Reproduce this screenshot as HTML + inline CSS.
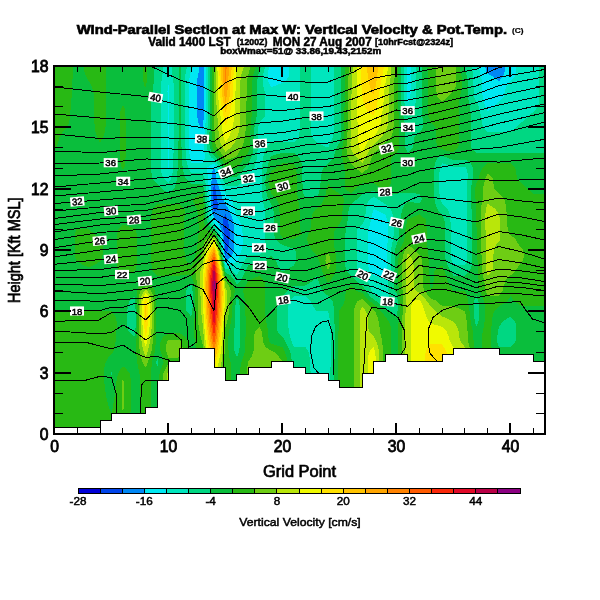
<!DOCTYPE html>
<html><head><meta charset="utf-8"><title>Wind-Parallel Section</title>
<style>
html,body{margin:0;padding:0;background:#fff;}
svg{display:block;font-family:"Liberation Sans",sans-serif;}
.ax{font-size:15.7px;fill:#000;stroke:#000;stroke-width:0.8px;}
.cbl{font-size:11.7px;fill:#000;stroke:#000;stroke-width:0.5px;}
.cl text{font-size:9.6px;fill:#000;stroke:#000;stroke-width:0.5px;}
</style></head><body>
<svg width="600" height="600" viewBox="0 0 600 600">
<defs><clipPath id="pc"><rect x="54.5" y="66.0" width="490.0" height="368.0"/></clipPath></defs>
<rect width="600" height="600" fill="#fff"/>
<g clip-path="url(#pc)">
<g shape-rendering="crispEdges">
<rect x="54.5" y="66.0" width="490.0" height="368.0" fill="#0000d7"/>
<path fill="#0044eb" d="M54.5 434.0L65.9 434.0L77.3 434.0L88.7 434.0L100.1 434.0L111.5 434.0L122.9 434.0L134.3 434.0L145.7 434.0L157.1 434.0L168.5 434.0L179.9 434.0L191.3 434.0L202.7 434.0L214.1 434.0L225.5 434.0L236.9 434.0L248.3 434.0L259.7 434.0L271.1 434.0L282.5 434.0L293.9 434.0L305.3 434.0L316.7 434.0L328.1 434.0L339.5 434.0L350.9 434.0L362.3 434.0L373.7 434.0L385.1 434.0L396.5 434.0L407.9 434.0L419.3 434.0L430.7 434.0L442.1 434.0L453.5 434.0L464.9 434.0L476.3 434.0L487.7 434.0L499.1 434.0L510.5 434.0L521.9 434.0L533.3 434.0L544.7 434.0L544.7 428.9L544.7 423.8L544.7 418.7L544.7 413.6L544.7 408.4L544.7 403.3L544.7 398.2L544.7 393.1L544.7 388.0L544.7 382.9L544.7 377.8L544.7 372.6L544.7 367.5L544.7 362.4L544.7 357.3L544.7 352.2L544.7 347.1L544.7 342.0L544.7 336.9L544.7 331.8L544.7 326.6L544.7 321.5L544.7 316.4L544.7 311.3L544.7 306.2L544.7 301.1L544.7 296.0L544.7 290.9L544.7 285.7L544.7 280.6L544.7 275.5L544.7 270.4L544.7 265.3L544.7 260.2L544.7 255.1L544.7 250.0L544.7 244.8L544.7 239.7L544.7 234.6L544.7 229.5L544.7 224.4L544.7 219.3L544.7 214.2L544.7 209.1L544.7 203.9L544.7 198.8L544.7 193.7L544.7 188.6L544.7 183.5L544.7 178.4L544.7 173.3L544.7 168.2L544.7 163.0L544.7 157.9L544.7 152.8L544.7 147.7L544.7 142.6L544.7 137.5L544.7 132.4L544.7 127.2L544.7 122.1L544.7 117.0L544.7 111.9L544.7 106.8L544.7 101.7L544.7 96.6L544.7 91.5L544.7 86.4L544.7 81.2L544.7 76.1L544.7 71.0L544.7 65.9L533.3 65.9L521.9 65.9L510.5 65.9L499.1 65.9L487.7 65.9L476.3 65.9L464.9 65.9L453.5 65.9L442.1 65.9L430.7 65.9L419.3 65.9L407.9 65.9L396.5 65.9L385.1 65.9L373.7 65.9L362.3 65.9L350.9 65.9L339.5 65.9L328.1 65.9L316.7 65.9L305.3 65.9L293.9 65.9L282.5 65.9L271.1 65.9L259.7 65.9L248.3 65.9L236.9 65.9L225.5 65.9L214.1 65.9L202.7 65.9L191.3 65.9L179.9 65.9L168.5 65.9L157.1 65.9L145.7 65.9L134.3 65.9L122.9 65.9L111.5 65.9L100.1 65.9L88.7 65.9L77.3 65.9L65.9 65.9L54.5 65.9L54.5 71.0L54.5 76.1L54.5 81.2L54.5 86.4L54.5 91.5L54.5 96.6L54.5 101.7L54.5 106.8L54.5 111.9L54.5 117.0L54.5 122.1L54.5 127.2L54.5 132.4L54.5 137.5L54.5 142.6L54.5 147.7L54.5 152.8L54.5 157.9L54.5 163.0L54.5 168.2L54.5 173.3L54.5 178.4L54.5 183.5L54.5 188.6L54.5 193.7L54.5 198.8L54.5 203.9L54.5 209.1L54.5 214.2L54.5 219.3L54.5 224.4L54.5 229.5L54.5 234.6L54.5 239.7L54.5 244.8L54.5 250.0L54.5 255.1L54.5 260.2L54.5 265.3L54.5 270.4L54.5 275.5L54.5 280.6L54.5 285.7L54.5 290.9L54.5 296.0L54.5 301.1L54.5 306.2L54.5 311.3L54.5 316.4L54.5 321.5L54.5 326.6L54.5 331.8L54.5 336.9L54.5 342.0L54.5 347.1L54.5 352.2L54.5 357.3L54.5 362.4L54.5 367.5L54.5 372.6L54.5 377.8L54.5 382.9L54.5 388.0L54.5 393.1L54.5 398.2L54.5 403.3L54.5 408.4L54.5 413.6L54.5 418.7L54.5 423.8L54.5 428.9Z"/>
<path fill="#0087f5" d="M54.5 434.0L65.9 434.0L77.3 434.0L88.7 434.0L100.1 434.0L111.5 434.0L122.9 434.0L134.3 434.0L145.7 434.0L157.1 434.0L168.5 434.0L179.9 434.0L191.3 434.0L202.7 434.0L214.1 434.0L225.5 434.0L236.9 434.0L248.3 434.0L259.7 434.0L271.1 434.0L282.5 434.0L293.9 434.0L305.3 434.0L316.7 434.0L328.1 434.0L339.5 434.0L350.9 434.0L362.3 434.0L373.7 434.0L385.1 434.0L396.5 434.0L407.9 434.0L419.3 434.0L430.7 434.0L442.1 434.0L453.5 434.0L464.9 434.0L476.3 434.0L487.7 434.0L499.1 434.0L510.5 434.0L521.9 434.0L533.3 434.0L544.7 434.0L544.7 428.9L544.7 423.8L544.7 418.7L544.7 413.6L544.7 408.4L544.7 403.3L544.7 398.2L544.7 393.1L544.7 388.0L544.7 382.9L544.7 377.8L544.7 372.6L544.7 367.5L544.7 362.4L544.7 357.3L544.7 352.2L544.7 347.1L544.7 342.0L544.7 336.9L544.7 331.8L544.7 326.6L544.7 321.5L544.7 316.4L544.7 311.3L544.7 306.2L544.7 301.1L544.7 296.0L544.7 290.9L544.7 285.7L544.7 280.6L544.7 275.5L544.7 270.4L544.7 265.3L544.7 260.2L544.7 255.1L544.7 250.0L544.7 244.8L544.7 239.7L544.7 234.6L544.7 229.5L544.7 224.4L544.7 219.3L544.7 214.2L544.7 209.1L544.7 203.9L544.7 198.8L544.7 193.7L544.7 188.6L544.7 183.5L544.7 178.4L544.7 173.3L544.7 168.2L544.7 163.0L544.7 157.9L544.7 152.8L544.7 147.7L544.7 142.6L544.7 137.5L544.7 132.4L544.7 127.2L544.7 122.1L544.7 117.0L544.7 111.9L544.7 106.8L544.7 101.7L544.7 96.6L544.7 91.5L544.7 86.4L544.7 81.2L544.7 76.1L544.7 71.0L544.7 65.9L533.3 65.9L521.9 65.9L510.5 65.9L499.1 65.9L487.7 65.9L476.3 65.9L464.9 65.9L453.5 65.9L442.1 65.9L430.7 65.9L419.3 65.9L407.9 65.9L396.5 65.9L385.1 65.9L373.7 65.9L362.3 65.9L350.9 65.9L339.5 65.9L328.1 65.9L316.7 65.9L305.3 65.9L293.9 65.9L282.5 65.9L271.1 65.9L259.7 65.9L248.3 65.9L236.9 65.9L225.5 65.9L214.1 65.9L202.7 65.9L191.3 65.9L179.9 65.9L168.5 65.9L157.1 65.9L145.7 65.9L134.3 65.9L122.9 65.9L111.5 65.9L100.1 65.9L88.7 65.9L77.3 65.9L65.9 65.9L54.5 65.9L54.5 71.0L54.5 76.1L54.5 81.2L54.5 86.4L54.5 91.5L54.5 96.6L54.5 101.7L54.5 106.8L54.5 111.9L54.5 117.0L54.5 122.1L54.5 127.2L54.5 132.4L54.5 137.5L54.5 142.6L54.5 147.7L54.5 152.8L54.5 157.9L54.5 163.0L54.5 168.2L54.5 173.3L54.5 178.4L54.5 183.5L54.5 188.6L54.5 193.7L54.5 198.8L54.5 203.9L54.5 209.1L54.5 214.2L54.5 219.3L54.5 224.4L54.5 229.5L54.5 234.6L54.5 239.7L54.5 244.8L54.5 250.0L54.5 255.1L54.5 260.2L54.5 265.3L54.5 270.4L54.5 275.5L54.5 280.6L54.5 285.7L54.5 290.9L54.5 296.0L54.5 301.1L54.5 306.2L54.5 311.3L54.5 316.4L54.5 321.5L54.5 326.6L54.5 331.8L54.5 336.9L54.5 342.0L54.5 347.1L54.5 352.2L54.5 357.3L54.5 362.4L54.5 367.5L54.5 372.6L54.5 377.8L54.5 382.9L54.5 388.0L54.5 393.1L54.5 398.2L54.5 403.3L54.5 408.4L54.5 413.6L54.5 418.7L54.5 423.8L54.5 428.9ZM214.1 211.3L213.6 209.0L213.2 203.9L213.1 198.8L213.1 193.7L213.2 188.6L214.1 183.5L214.1 183.5L214.1 183.5L215.5 188.6L216.3 193.7L216.9 198.8L217.8 203.9L218.1 209.1ZM225.5 254.7L225.1 250.0L224.7 244.8L224.4 239.7L224.0 234.6L223.5 229.5L223.0 224.4L222.7 219.3L225.5 214.3L227.5 219.3L228.7 224.4L229.4 229.5L229.6 234.6L229.5 239.7L229.0 244.8L227.9 250.0Z"/>
<path fill="#00e8f2" d="M54.5 434.0L65.9 434.0L77.3 434.0L88.7 434.0L100.1 434.0L111.5 434.0L122.9 434.0L134.3 434.0L145.7 434.0L157.1 434.0L168.5 434.0L179.9 434.0L191.3 434.0L202.7 434.0L214.1 434.0L225.5 434.0L236.9 434.0L248.3 434.0L259.7 434.0L271.1 434.0L282.5 434.0L293.9 434.0L305.3 434.0L316.7 434.0L328.1 434.0L339.5 434.0L350.9 434.0L362.3 434.0L373.7 434.0L385.1 434.0L396.5 434.0L407.9 434.0L419.3 434.0L430.7 434.0L442.1 434.0L453.5 434.0L464.9 434.0L476.3 434.0L487.7 434.0L499.1 434.0L510.5 434.0L521.9 434.0L533.3 434.0L544.7 434.0L544.7 428.9L544.7 423.8L544.7 418.7L544.7 413.6L544.7 408.4L544.7 403.3L544.7 398.2L544.7 393.1L544.7 388.0L544.7 382.9L544.7 377.8L544.7 372.6L544.7 367.5L544.7 362.4L544.7 357.3L544.7 352.2L544.7 347.1L544.7 342.0L544.7 336.9L544.7 331.8L544.7 326.6L544.7 321.5L544.7 316.4L544.7 311.3L544.7 306.2L544.7 301.1L544.7 296.0L544.7 290.9L544.7 285.7L544.7 280.6L544.7 275.5L544.7 270.4L544.7 265.3L544.7 260.2L544.7 255.1L544.7 250.0L544.7 244.8L544.7 239.7L544.7 234.6L544.7 229.5L544.7 224.4L544.7 219.3L544.7 214.2L544.7 209.1L544.7 203.9L544.7 198.8L544.7 193.7L544.7 188.6L544.7 183.5L544.7 178.4L544.7 173.3L544.7 168.2L544.7 163.0L544.7 157.9L544.7 152.8L544.7 147.7L544.7 142.6L544.7 137.5L544.7 132.4L544.7 127.2L544.7 122.1L544.7 117.0L544.7 111.9L544.7 106.8L544.7 101.7L544.7 96.6L544.7 91.5L544.7 86.4L544.7 81.2L544.7 76.1L544.7 71.0L544.7 65.9L533.3 65.9L521.9 65.9L510.5 65.9L504.8 65.9L504.7 71.0L503.2 76.1L499.1 81.2L499.1 81.2L499.1 81.2L492.3 76.1L487.7 73.6L486.1 71.0L484.9 65.9L476.3 65.9L464.9 65.9L453.5 65.9L442.1 65.9L430.7 65.9L419.3 65.9L407.9 65.9L396.5 65.9L385.1 65.9L373.7 65.9L362.3 65.9L350.9 65.9L339.5 65.9L328.1 65.9L316.7 65.9L305.3 65.9L293.9 65.9L282.5 65.9L271.1 65.9L259.7 65.9L248.3 65.9L236.9 65.9L225.5 65.9L214.1 65.9L203.7 65.9L203.7 71.0L203.7 76.1L203.7 81.2L203.7 86.4L203.7 91.5L203.7 96.6L203.7 101.7L203.7 106.8L203.7 111.9L203.7 117.0L203.4 122.1L202.9 127.2L202.7 129.2L200.7 127.2L198.3 122.1L197.3 117.0L197.0 111.9L197.0 106.8L197.0 101.7L197.0 96.6L197.0 91.5L197.0 86.4L197.1 81.2L197.7 76.1L198.9 71.0L199.6 65.9L191.3 65.9L179.9 65.9L168.5 65.9L157.1 65.9L145.7 65.9L134.3 65.9L122.9 65.9L111.5 65.9L100.1 65.9L88.7 65.9L77.3 65.9L65.9 65.9L54.5 65.9L54.5 71.0L54.5 76.1L54.5 81.2L54.5 86.4L54.5 91.5L54.5 96.6L54.5 101.7L54.5 106.8L54.5 111.9L54.5 117.0L54.5 122.1L54.5 127.2L54.5 132.4L54.5 137.5L54.5 142.6L54.5 147.7L54.5 152.8L54.5 157.9L54.5 163.0L54.5 168.2L54.5 173.3L54.5 178.4L54.5 183.5L54.5 188.6L54.5 193.7L54.5 198.8L54.5 203.9L54.5 209.1L54.5 214.2L54.5 219.3L54.5 224.4L54.5 229.5L54.5 234.6L54.5 239.7L54.5 244.8L54.5 250.0L54.5 255.1L54.5 260.2L54.5 265.3L54.5 270.4L54.5 275.5L54.5 280.6L54.5 285.7L54.5 290.9L54.5 296.0L54.5 301.1L54.5 306.2L54.5 311.3L54.5 316.4L54.5 321.5L54.5 326.6L54.5 331.8L54.5 336.9L54.5 342.0L54.5 347.1L54.5 352.2L54.5 357.3L54.5 362.4L54.5 367.5L54.5 372.6L54.5 377.8L54.5 382.9L54.5 388.0L54.5 393.1L54.5 398.2L54.5 403.3L54.5 408.4L54.5 413.6L54.5 418.7L54.5 423.8L54.5 428.9ZM225.5 260.9L225.3 260.2L224.6 255.1L224.1 250.0L223.6 244.8L223.0 239.7L222.3 234.6L221.0 229.5L219.2 224.4L215.8 219.3L214.1 217.9L212.7 214.2L211.6 209.1L211.3 203.9L211.2 198.8L211.0 193.7L210.9 188.6L211.2 183.5L211.8 178.4L211.9 173.3L213.5 168.2L214.1 167.7L214.4 168.2L215.5 173.3L216.2 178.4L217.6 183.5L219.4 188.6L220.9 193.7L222.6 198.8L225.5 203.9L225.5 203.9L228.5 209.1L230.7 214.2L232.5 219.3L233.6 224.4L234.2 229.5L234.5 234.6L234.4 239.7L234.2 244.8L233.7 250.0L232.2 255.1L227.5 260.2Z"/>
<path fill="#00e6be" d="M54.5 434.0L65.9 434.0L77.3 434.0L88.7 434.0L100.1 434.0L111.5 434.0L122.9 434.0L134.3 434.0L145.7 434.0L157.1 434.0L168.5 434.0L179.9 434.0L191.3 434.0L202.7 434.0L214.1 434.0L225.5 434.0L236.9 434.0L248.3 434.0L259.7 434.0L271.1 434.0L282.5 434.0L293.9 434.0L305.3 434.0L316.7 434.0L328.1 434.0L339.5 434.0L350.9 434.0L362.3 434.0L373.7 434.0L385.1 434.0L396.5 434.0L407.9 434.0L419.3 434.0L430.7 434.0L442.1 434.0L453.5 434.0L464.9 434.0L476.3 434.0L487.7 434.0L499.1 434.0L510.5 434.0L521.9 434.0L533.3 434.0L544.7 434.0L544.7 428.9L544.7 423.8L544.7 418.7L544.7 413.6L544.7 408.4L544.7 403.3L544.7 398.2L544.7 393.1L544.7 388.0L544.7 382.9L544.7 377.8L544.7 372.6L544.7 367.5L544.7 362.4L544.7 357.3L544.7 352.2L544.7 347.1L544.7 342.0L544.7 336.9L544.7 331.8L544.7 326.6L544.7 321.5L544.7 316.4L544.7 311.3L544.7 306.2L544.7 301.1L544.7 296.0L544.7 290.9L544.7 285.7L544.7 280.6L544.7 275.5L544.7 270.4L544.7 265.3L544.7 260.2L544.7 255.1L544.7 250.0L544.7 244.8L544.7 239.7L544.7 234.6L544.7 229.5L544.7 224.4L544.7 219.3L544.7 214.2L544.7 209.1L544.7 203.9L544.7 198.8L544.7 193.7L544.7 188.6L544.7 183.5L544.7 178.4L544.7 173.3L544.7 168.2L544.7 163.0L544.7 157.9L544.7 152.8L544.7 147.7L544.7 142.6L544.7 137.5L544.7 132.4L544.7 127.2L544.7 122.1L544.7 117.0L544.7 111.9L544.7 106.8L544.7 101.7L544.7 96.6L544.7 91.5L544.7 86.4L544.7 81.2L544.7 76.1L544.7 71.0L544.7 65.9L533.3 65.9L521.9 65.9L516.2 65.9L516.1 71.0L515.3 76.1L510.5 81.2L510.5 81.2L506.4 86.4L504.9 91.5L503.9 96.6L499.1 101.7L499.1 101.7L493.4 106.8L487.7 111.9L487.7 111.9L487.7 111.9L485.3 106.8L484.0 101.7L482.7 96.6L482.1 91.5L482.0 86.4L481.9 81.2L480.9 76.1L479.6 71.0L479.2 65.9L476.3 65.9L464.9 65.9L453.5 65.9L442.1 65.9L430.7 65.9L419.3 65.9L410.8 65.9L410.8 71.0L410.8 76.1L410.8 81.2L410.7 86.4L410.7 91.5L410.3 96.6L408.8 101.7L407.9 103.6L407.5 101.7L406.7 96.6L406.5 91.5L406.5 86.4L406.5 81.2L406.5 76.1L406.5 71.0L406.5 65.9L396.5 65.9L385.1 65.9L373.7 65.9L362.3 65.9L350.9 65.9L339.5 65.9L328.1 65.9L316.7 65.9L305.3 65.9L293.9 65.9L288.5 65.9L289.0 71.0L288.8 76.1L285.4 81.2L282.5 83.0L273.3 86.4L271.1 87.2L270.6 86.4L268.1 81.2L267.7 76.1L268.4 71.0L269.0 65.9L259.7 65.9L248.3 65.9L236.9 65.9L225.5 65.9L214.1 65.9L205.7 65.9L205.7 71.0L205.7 76.1L205.8 81.2L205.8 86.4L205.8 91.5L205.8 96.6L205.8 101.7L205.8 106.8L205.8 111.9L205.8 117.0L205.6 122.1L205.2 127.2L204.7 132.4L204.2 137.5L204.0 142.6L204.1 147.7L204.5 152.8L205.0 157.9L202.7 162.9L191.3 162.9L189.9 157.9L189.4 152.8L189.4 147.7L189.3 142.6L189.2 137.5L189.2 132.4L189.1 127.2L189.1 122.1L189.1 117.0L189.1 111.9L189.1 106.8L189.1 101.7L189.1 96.6L189.1 91.5L189.1 86.4L189.2 81.2L189.7 76.1L191.3 71.0L191.3 71.0L193.5 65.9L191.3 65.9L179.9 65.9L168.5 65.9L157.1 65.9L145.7 65.9L134.3 65.9L122.9 65.9L111.5 65.9L100.1 65.9L88.7 65.9L77.3 65.9L65.9 65.9L54.5 65.9L54.5 71.0L54.5 76.1L54.5 81.2L54.5 86.4L54.5 91.5L54.5 96.6L54.5 101.7L54.5 106.8L54.5 111.9L54.5 117.0L54.5 122.1L54.5 127.2L54.5 132.4L54.5 137.5L54.5 142.6L54.5 147.7L54.5 152.8L54.5 157.9L54.5 163.0L54.5 168.2L54.5 173.3L54.5 178.4L54.5 183.5L54.5 188.6L54.5 193.7L54.5 198.8L54.5 203.9L54.5 209.1L54.5 214.2L54.5 219.3L54.5 224.4L54.5 229.5L54.5 234.6L54.5 239.7L54.5 244.8L54.5 250.0L54.5 255.1L54.5 260.2L54.5 265.3L54.5 270.4L54.5 275.5L54.5 280.6L54.5 285.7L54.5 290.9L54.5 296.0L54.5 301.1L54.5 306.2L54.5 311.3L54.5 316.4L54.5 321.5L54.5 326.6L54.5 331.8L54.5 336.9L54.5 342.0L54.5 347.1L54.5 352.2L54.5 357.3L54.5 362.4L54.5 367.5L54.5 372.6L54.5 377.8L54.5 382.9L54.5 388.0L54.5 393.1L54.5 398.2L54.5 403.3L54.5 408.4L54.5 413.6L54.5 418.7L54.5 423.8L54.5 428.9ZM168.5 169.4L168.1 168.2L167.5 163.0L167.5 157.9L167.5 152.8L167.5 147.7L167.5 142.6L167.5 137.5L167.5 132.4L167.5 127.2L167.5 122.1L167.5 117.0L167.5 111.9L167.5 106.8L167.5 101.7L167.5 96.6L167.5 91.5L168.1 86.4L168.5 85.0L168.8 86.4L169.2 91.5L169.2 96.6L169.2 101.7L169.2 106.8L169.2 111.9L169.2 117.0L169.2 122.1L169.2 127.2L169.2 132.4L169.2 137.5L169.2 142.6L169.2 147.7L169.1 152.8L169.1 157.9L169.1 163.0L168.8 168.2ZM225.5 264.9L224.5 260.2L223.8 255.1L223.2 250.0L222.5 244.8L221.7 239.7L220.5 234.6L218.5 229.5L215.3 224.4L214.1 222.9L212.1 219.3L210.5 214.2L209.6 209.1L209.4 203.9L209.2 198.8L208.9 193.7L208.6 188.6L208.4 183.5L208.2 178.4L207.3 173.3L206.3 168.2L214.1 163.2L217.1 168.2L218.4 173.3L219.4 178.4L221.1 183.5L223.2 188.6L225.5 193.7L225.5 193.8L231.2 198.8L233.1 203.9L234.4 209.1L236.0 214.2L236.9 217.3L238.9 219.3L241.3 224.4L242.3 229.5L242.6 234.6L242.6 239.7L242.5 244.8L241.6 250.0L239.6 255.1L237.7 260.2L236.9 262.1ZM373.7 275.5L373.7 275.5L369.2 270.4L368.1 265.3L368.0 260.2L368.0 255.1L368.0 250.0L368.0 244.8L368.0 239.7L368.1 234.6L368.7 229.5L369.9 224.4L371.0 219.3L372.1 214.2L373.7 209.1L384.6 214.2L385.1 214.3L387.3 219.3L387.9 224.4L387.9 229.5L387.9 234.6L387.8 239.7L387.4 244.8L387.1 249.9L387.0 255.1L387.0 260.2L387.0 265.3L386.5 270.4L385.1 275.5L385.1 275.5Z"/>
<path fill="#00d782" d="M54.5 434.0L65.9 434.0L77.3 434.0L88.7 434.0L100.1 434.0L111.5 434.0L122.9 434.0L134.3 434.0L145.7 434.0L157.1 434.0L168.5 434.0L179.9 434.0L191.3 434.0L202.7 434.0L214.1 434.0L225.5 434.0L236.9 434.0L248.3 434.0L259.7 434.0L271.1 434.0L282.5 434.0L293.9 434.0L305.3 434.0L311.0 434.0L311.0 428.9L311.0 423.8L311.0 418.7L311.0 413.6L311.0 408.4L311.0 403.3L311.0 398.2L311.0 393.1L311.0 388.0L311.0 382.9L311.0 377.8L310.7 372.6L310.2 367.5L309.7 362.4L309.5 357.3L308.7 352.2L305.3 347.1L293.9 347.1L293.9 347.1L291.7 342.0L290.2 336.9L288.9 331.8L288.3 326.6L288.2 321.5L288.2 316.4L288.2 311.3L288.3 306.2L289.8 301.1L293.9 296.1L305.3 296.1L310.5 301.1L312.9 306.2L316.7 311.3L320.7 311.3L328.1 311.3L329.3 316.4L330.1 321.5L330.7 326.6L331.1 331.8L331.2 336.9L331.2 342.0L331.1 347.1L331.1 352.2L331.1 357.3L330.9 362.4L330.5 367.5L330.2 372.6L330.0 377.8L330.0 382.9L330.0 388.0L330.0 393.1L330.0 398.2L330.0 403.3L330.0 408.4L330.0 413.6L330.0 418.7L330.0 423.8L330.0 428.9L330.0 434.0L339.5 434.0L350.9 434.0L362.3 434.0L373.7 434.0L385.1 434.0L396.5 434.0L407.9 434.0L419.3 434.0L430.7 434.0L442.1 434.0L453.5 434.0L464.9 434.0L476.3 434.0L487.7 434.0L499.1 434.0L510.5 434.0L521.9 434.0L533.3 434.0L544.7 434.0L544.7 428.9L544.7 423.8L544.7 418.7L544.7 413.6L544.7 408.4L544.7 403.3L544.7 398.2L544.7 393.1L544.7 388.0L544.7 382.9L544.7 377.8L544.7 372.6L544.7 367.5L544.7 362.4L544.7 357.3L544.7 352.2L544.7 347.1L544.7 342.0L544.7 336.9L544.7 331.8L544.7 326.6L544.7 321.5L544.7 316.4L544.7 311.3L544.7 306.2L544.7 301.1L544.7 296.0L544.7 290.9L544.7 285.7L544.7 280.6L544.7 275.5L544.7 270.4L544.7 265.3L544.7 260.2L544.7 255.1L544.7 250.0L544.7 244.8L544.7 239.7L544.7 234.6L544.7 229.5L544.7 224.4L544.7 219.3L544.7 214.2L544.7 209.1L544.7 203.9L544.7 198.8L544.7 193.7L544.7 188.6L544.7 183.5L544.7 178.4L544.7 173.3L544.7 168.2L544.7 163.0L544.7 157.9L544.7 152.8L544.7 147.7L544.7 142.6L544.7 137.5L544.7 132.4L544.7 127.2L544.7 122.1L544.7 117.0L544.7 111.9L544.7 106.8L544.7 101.7L544.7 96.6L544.7 91.5L544.7 86.4L544.7 81.2L544.7 76.1L544.7 71.0L544.7 65.9L539.0 65.9L539.0 71.0L539.0 76.1L539.0 81.2L539.0 86.4L539.0 91.5L539.0 96.6L538.9 101.7L538.1 106.8L533.3 111.9L533.3 111.9L527.6 117.0L521.9 122.1L521.9 122.1L516.2 127.2L510.5 132.4L510.5 132.4L499.1 132.4L487.7 132.4L487.7 132.4L482.9 127.2L482.0 122.1L481.3 117.0L480.0 111.9L478.7 106.8L476.3 101.7L476.3 101.7L474.1 96.6L473.5 91.5L473.5 86.4L473.4 81.2L473.2 76.1L472.5 71.0L471.3 65.9L464.9 65.9L453.5 65.9L442.1 65.9L430.7 65.9L419.3 65.9L416.4 65.9L416.4 71.0L416.4 76.1L416.4 81.2L416.4 86.4L416.4 91.5L416.3 96.6L415.8 101.7L414.8 106.8L412.8 111.9L407.9 116.3L406.4 111.9L405.2 106.8L404.3 101.7L403.8 96.6L403.6 91.5L403.6 86.4L403.6 81.2L403.6 76.1L403.6 71.0L403.6 65.9L396.5 65.9L385.1 65.9L373.7 65.9L362.3 65.9L350.9 65.9L339.5 65.9L333.8 65.9L333.8 71.0L333.8 76.1L333.8 81.2L333.8 86.4L333.8 91.5L333.8 96.6L333.8 101.7L333.8 106.8L333.8 111.9L333.8 117.0L333.8 122.1L333.8 127.2L333.7 132.4L332.7 137.5L330.3 142.6L328.1 147.7L316.7 142.6L316.7 142.6L311.9 137.5L311.1 132.4L311.0 127.2L311.0 122.1L311.0 117.0L311.0 111.9L311.0 106.8L311.0 101.7L311.0 96.6L311.0 91.5L311.0 86.4L311.0 81.2L311.0 76.1L311.0 71.0L311.0 65.9L305.3 65.9L299.6 65.9L299.6 71.0L299.6 76.1L299.6 81.2L299.6 86.4L299.6 91.5L299.6 96.6L299.6 101.7L299.6 106.8L299.6 111.9L299.6 117.0L299.6 122.1L299.6 127.2L299.5 132.4L298.7 137.5L293.9 142.4L282.5 142.4L271.1 142.5L270.9 142.6L265.7 147.7L264.1 152.8L263.2 157.9L262.6 163.0L262.2 168.2L261.9 173.3L261.7 178.4L261.6 183.5L261.7 188.6L262.0 193.7L262.6 198.8L263.5 203.9L264.7 209.1L265.3 214.2L265.4 219.3L265.4 224.4L265.4 229.5L265.4 234.6L265.4 239.7L265.3 244.8L263.8 250.0L259.7 254.9L248.3 254.9L248.2 255.1L244.8 260.2L242.0 265.3L239.6 270.4L236.9 275.4L231.5 270.4L225.5 268.6L224.7 265.3L223.7 260.2L222.9 255.1L222.2 250.0L221.3 244.8L220.3 239.7L218.8 234.6L216.1 229.5L214.1 226.7L211.7 224.4L209.4 219.3L208.2 214.2L207.6 209.1L207.5 203.9L207.3 198.8L206.8 193.7L206.2 188.6L205.6 183.5L204.5 178.4L202.7 173.3L191.3 173.3L191.3 173.3L188.5 168.2L186.8 163.0L185.9 157.9L185.6 152.8L185.5 147.7L185.2 142.6L185.0 137.5L184.9 132.4L184.8 127.2L184.8 122.1L184.8 117.0L184.8 111.9L184.8 106.8L184.8 101.7L184.8 96.6L184.8 91.5L184.8 86.4L184.9 81.2L185.1 76.1L186.0 71.0L187.2 65.9L179.9 65.9L172.0 65.9L172.0 71.0L172.4 76.1L173.3 81.2L174.0 86.4L174.2 91.5L174.2 96.6L174.2 101.7L174.2 106.8L174.2 111.9L174.2 117.0L174.2 122.1L174.2 127.2L174.2 132.4L174.1 137.5L173.8 142.6L173.5 147.7L173.5 152.8L173.4 157.9L173.4 163.0L173.2 168.2L172.5 173.3L171.1 178.4L168.5 183.4L163.8 178.4L161.5 173.3L160.8 168.2L160.6 163.0L160.6 157.9L160.6 152.8L160.6 147.7L160.6 142.6L160.6 137.5L160.6 132.4L160.6 127.2L160.6 122.1L160.6 117.0L160.6 111.9L160.6 106.8L160.6 101.7L160.6 96.6L160.6 91.5L160.8 86.4L161.4 81.2L162.3 76.1L162.8 71.0L162.8 65.9L157.1 65.9L145.7 65.9L134.3 65.9L122.9 65.9L111.5 65.9L100.1 65.9L88.7 65.9L77.3 65.9L65.9 65.9L54.5 65.9L54.5 71.0L54.5 76.1L54.5 81.2L54.5 86.4L54.5 91.5L54.5 96.6L54.5 101.7L54.5 106.8L54.5 111.9L54.5 117.0L54.5 122.1L54.5 127.2L54.5 132.4L54.5 137.5L54.5 142.6L54.5 147.7L54.5 152.8L54.5 157.9L54.5 163.0L54.5 168.2L54.5 173.3L54.5 178.4L54.5 183.5L54.5 188.6L54.5 193.7L54.5 198.8L54.5 203.9L54.5 209.1L54.5 214.2L54.5 219.3L54.5 224.4L54.5 229.5L54.5 234.6L54.5 239.7L54.5 244.8L54.5 250.0L54.5 255.1L54.5 260.2L54.5 265.3L54.5 270.4L54.5 275.5L54.5 280.6L54.5 285.7L54.5 290.9L54.5 296.0L54.5 301.1L54.5 306.2L54.5 311.3L54.5 316.4L54.5 321.5L54.5 326.6L54.5 331.8L54.5 336.9L54.5 342.0L54.5 347.1L54.5 352.2L54.5 357.3L54.5 362.4L54.5 367.5L54.5 372.6L54.5 377.8L54.5 382.9L54.5 388.0L54.5 393.1L54.5 398.2L54.5 403.3L54.5 408.4L54.5 413.6L54.5 418.7L54.5 423.8L54.5 428.9ZM134.3 321.9L134.2 321.5L134.3 319.4L134.3 321.5ZM385.1 302.6L383.5 301.1L377.0 296.0L373.7 294.3L371.6 290.9L369.9 285.7L366.9 280.6L362.3 276.9L360.8 275.5L357.6 270.4L356.7 265.3L356.6 260.2L356.6 255.1L356.6 250.0L356.6 244.8L356.6 239.7L356.7 234.6L357.5 229.5L362.3 224.4L362.3 224.4L364.6 219.3L365.5 214.2L366.1 209.1L367.0 203.9L370.1 198.8L373.7 196.9L377.3 198.8L384.9 203.9L385.1 204.1L390.8 209.1L392.7 214.2L393.4 219.3L393.6 224.4L393.6 229.5L393.6 234.6L393.1 239.7L391.9 244.8L391.1 250.0L390.8 255.1L390.8 260.2L390.8 265.3L390.5 270.4L389.7 275.5L388.5 280.6L388.0 285.7L388.4 290.9L389.5 296.0L388.5 301.1ZM453.5 265.1L451.4 260.2L450.7 255.1L450.7 250.0L450.6 244.8L450.6 239.7L450.6 234.6L450.6 229.5L450.6 224.4L450.4 219.3L449.7 214.2L447.8 209.1L442.4 203.9L442.1 203.8L440.0 198.8L439.5 193.7L439.4 188.6L439.4 183.5L439.4 178.4L439.4 173.3L440.0 168.2L442.1 163.3L453.5 166.6L464.9 166.6L466.4 168.2L467.6 173.3L467.6 178.4L467.2 183.5L466.9 188.6L466.9 193.7L467.0 198.8L467.1 203.9L467.1 209.1L467.1 214.2L467.2 219.3L467.2 224.4L467.2 229.5L467.3 234.6L467.3 239.7L467.4 244.8L467.4 250.0L467.4 255.1L466.9 260.2L464.9 265.1ZM224.6 183.5L225.5 185.5L236.9 186.0L241.0 183.5L245.0 178.4L248.3 173.4L248.6 173.3L254.0 168.2L255.9 163.0L256.8 157.9L257.4 152.8L257.7 147.7L257.8 142.6L257.8 137.5L257.9 132.4L258.3 127.2L259.7 122.1L259.7 122.1L264.5 117.0L265.3 111.9L265.4 106.8L265.4 101.7L265.3 96.6L264.7 91.5L263.3 86.4L262.5 81.2L262.8 76.1L264.0 71.0L265.1 65.9L259.7 65.9L248.3 65.9L236.9 65.9L225.5 65.9L214.1 65.9L207.7 65.9L207.8 71.0L207.8 76.1L207.8 81.2L207.8 86.4L207.8 91.5L207.8 96.6L207.9 101.7L207.9 106.8L207.9 111.9L207.9 117.0L207.7 122.1L207.5 127.2L207.1 132.4L206.7 137.5L206.7 142.6L206.9 147.7L208.1 152.8L211.5 157.9L214.1 159.4L217.2 163.0L219.9 168.2L221.3 173.3L222.7 178.4Z"/>
<path fill="#0abe3c" d="M54.5 434.0L65.9 434.0L77.3 434.0L88.7 434.0L100.1 434.0L111.5 434.0L122.9 434.0L134.3 434.0L145.7 434.0L157.1 434.0L168.5 434.0L179.9 434.0L191.3 434.0L202.7 434.0L214.1 434.0L225.5 434.0L236.9 434.0L248.3 434.0L259.7 434.0L271.1 434.0L282.5 434.0L291.7 434.0L291.7 428.9L291.7 423.8L291.7 418.7L291.7 413.6L291.7 408.4L291.7 403.3L291.7 398.2L291.7 393.1L291.7 388.0L291.7 382.9L291.7 377.8L291.7 372.6L291.7 367.5L291.7 362.4L291.4 357.3L290.4 352.2L288.2 347.1L285.6 342.0L282.6 336.9L282.5 336.7L277.7 331.8L276.9 326.6L276.8 321.5L276.8 316.4L276.8 311.3L276.9 306.2L277.7 301.1L282.5 296.0L282.5 296.0L287.3 290.9L293.6 285.7L293.9 285.6L305.3 285.6L313.1 280.6L316.7 275.5L316.7 275.5L316.7 275.5L318.2 280.6L320.0 285.7L322.4 290.9L328.1 296.0L328.1 296.0L332.9 301.1L333.5 306.2L333.6 311.3L334.0 316.4L334.4 321.5L334.6 326.6L334.8 331.8L334.8 336.9L334.7 342.0L334.7 347.1L334.6 352.2L334.6 357.3L334.4 362.4L334.2 367.5L333.9 372.6L333.8 377.8L333.8 382.9L333.8 388.0L333.8 393.1L333.8 398.2L333.8 403.3L333.8 408.4L333.8 413.6L333.8 418.7L333.8 423.8L333.8 428.9L333.8 434.0L339.5 434.0L350.9 434.0L362.3 434.0L373.7 434.0L385.1 434.0L396.5 434.0L407.9 434.0L419.3 434.0L430.7 434.0L442.1 434.0L453.5 434.0L464.9 434.0L476.3 434.0L487.7 434.0L499.1 434.0L510.5 434.0L521.9 434.0L533.3 434.0L544.7 434.0L544.7 428.9L544.7 423.8L544.7 418.7L544.7 413.6L544.7 408.4L544.7 403.3L544.7 398.2L544.7 393.1L544.7 388.0L544.7 382.9L544.7 377.8L544.7 372.6L544.7 367.5L544.7 362.4L544.7 357.3L544.7 352.2L544.7 347.1L544.7 342.0L544.7 336.9L544.7 331.8L544.7 326.6L544.7 321.5L544.7 316.4L544.7 311.3L544.7 306.2L544.7 301.1L544.7 296.0L544.7 290.9L544.7 285.7L544.7 280.6L544.7 275.5L544.7 270.4L544.7 265.3L544.7 260.2L544.7 255.1L544.7 250.0L544.7 244.8L544.7 239.7L544.7 234.6L544.7 229.5L544.7 224.4L544.7 219.3L544.7 214.2L544.7 209.1L544.7 203.9L544.7 198.8L544.7 193.7L544.7 188.6L544.7 183.5L544.7 178.4L544.7 173.3L544.7 168.2L544.7 163.0L544.7 157.9L544.7 152.8L533.3 152.8L521.9 152.8L521.9 152.8L510.5 152.7L499.1 152.7L487.7 152.7L476.3 152.8L476.3 152.8L476.3 152.8L471.5 147.7L470.7 142.6L470.6 137.5L470.6 132.4L470.6 127.2L470.6 122.1L470.6 117.0L470.5 111.9L469.9 106.8L468.7 101.7L468.0 96.6L467.8 91.5L467.7 86.4L467.7 81.2L467.1 76.1L464.9 71.0L464.9 71.0L463.5 65.9L453.5 65.9L442.1 65.9L430.7 65.9L422.2 65.9L422.2 71.0L422.2 76.1L422.2 81.2L422.2 86.4L422.2 91.5L422.2 96.6L422.2 101.7L422.2 106.8L422.2 111.9L422.4 117.0L423.0 122.1L423.4 127.2L419.3 132.4L419.3 132.4L414.5 137.5L413.6 142.6L412.7 147.7L407.9 152.8L407.9 152.8L407.9 152.8L405.5 147.7L405.1 142.6L405.1 137.5L405.0 132.4L405.0 127.2L404.6 122.1L403.5 117.0L402.5 111.9L401.7 106.8L401.2 101.7L400.9 96.6L400.8 91.5L400.8 86.4L400.8 81.2L400.8 76.1L400.8 71.0L400.8 65.9L396.5 65.9L385.1 65.9L373.7 65.9L362.3 65.9L350.9 65.9L341.4 65.9L341.3 71.0L341.3 76.1L341.2 81.2L341.2 86.4L341.2 91.5L341.2 96.6L341.2 101.7L341.2 106.8L341.1 111.9L341.1 117.0L341.1 122.1L341.1 127.2L341.1 132.4L340.7 137.5L339.5 142.6L339.5 142.6L336.5 147.7L335.0 152.8L333.4 157.9L328.1 163.0L328.1 163.1L323.0 168.2L321.6 173.3L321.0 178.4L320.5 183.5L319.9 188.6L318.7 193.7L316.7 197.4L305.3 197.8L303.4 193.7L302.6 188.6L302.5 183.5L302.4 178.4L302.4 173.3L302.2 168.2L301.5 163.0L299.6 157.9L293.9 152.8L282.5 152.8L271.1 155.9L270.2 157.9L268.5 163.0L267.2 168.2L266.2 173.3L265.6 178.4L265.4 183.5L265.7 188.6L266.6 193.7L268.2 198.8L271.0 203.9L271.1 204.1L273.3 209.1L273.9 214.2L273.9 219.3L274.0 224.4L274.0 229.5L274.2 234.6L275.5 239.7L282.2 244.8L282.5 245.0L293.9 248.8L295.2 250.0L296.4 255.1L296.2 260.2L294.2 265.3L293.9 265.6L285.3 270.4L282.5 271.4L281.1 270.4L277.5 265.3L276.0 260.2L271.1 255.1L266.3 260.2L259.7 265.3L259.7 265.3L248.3 265.4L245.7 270.4L243.4 275.5L240.5 280.6L236.9 284.5L234.7 280.6L230.6 275.5L225.5 272.3L225.1 270.4L223.9 265.3L222.8 260.2L222.0 255.1L221.2 250.0L220.2 244.8L218.9 239.7L217.0 234.6L214.1 230.1L212.7 229.5L208.1 224.4L206.7 219.3L206.0 214.2L205.7 209.1L205.5 203.9L205.4 198.8L204.8 193.7L203.9 188.6L202.7 183.5L191.3 183.5L191.2 183.5L185.6 178.4L183.7 173.3L182.8 168.2L182.2 163.0L181.9 157.9L181.8 152.8L181.6 147.7L181.2 142.6L180.7 137.5L180.6 132.4L180.5 127.2L180.5 122.1L180.5 117.0L180.5 111.9L180.5 106.8L180.5 101.7L180.5 96.6L180.5 91.5L180.5 86.4L180.5 81.2L180.6 76.1L180.7 71.0L180.9 65.9L179.9 65.9L178.9 65.9L178.9 71.0L178.9 76.1L179.0 81.2L179.1 86.4L179.2 91.5L179.2 96.6L179.2 101.7L179.2 106.8L179.2 111.9L179.2 117.0L179.2 122.1L179.2 127.2L179.1 132.4L178.9 137.5L178.4 142.6L177.9 147.7L177.8 152.8L177.7 157.9L177.7 163.0L177.7 168.2L177.4 173.3L177.0 178.4L176.1 183.5L174.2 188.6L168.5 193.7L168.5 193.7L168.5 193.7L161.9 188.6L157.1 183.5L157.1 183.5L152.3 178.4L151.5 173.3L151.4 168.2L151.4 163.0L151.4 157.9L151.4 152.8L151.4 147.7L151.4 142.6L151.4 137.5L151.4 132.4L151.4 127.2L151.4 122.1L151.4 117.0L151.4 111.9L151.4 106.8L151.4 101.7L151.9 96.6L152.8 91.5L153.4 86.4L153.6 81.2L153.6 76.1L153.6 71.0L153.6 65.9L145.7 65.9L134.3 65.9L122.9 65.9L111.5 65.9L100.1 65.9L88.7 65.9L77.3 65.9L65.9 65.9L54.5 65.9L54.5 71.0L54.5 76.1L54.5 81.2L54.5 86.4L54.5 91.5L54.5 96.6L54.5 101.7L54.5 106.8L54.5 111.9L54.5 117.0L54.5 122.1L54.5 127.2L54.5 132.4L54.5 137.5L54.5 142.6L54.5 147.7L54.5 152.8L54.5 157.9L54.5 163.0L54.5 168.2L54.5 173.3L54.5 178.4L54.5 183.5L54.5 188.6L54.5 193.7L54.5 198.8L54.5 203.9L54.5 209.1L54.5 214.2L54.5 219.3L54.5 224.4L54.5 229.5L54.5 234.6L54.5 239.7L54.5 244.8L54.5 250.0L54.5 255.1L54.5 260.2L54.5 265.3L54.5 270.4L54.5 275.5L54.5 280.6L54.5 285.7L54.5 290.9L54.5 296.0L54.5 301.1L54.5 306.2L54.5 311.3L54.5 316.4L54.5 321.5L54.5 326.6L54.5 331.8L54.5 336.9L54.5 342.0L54.5 347.1L54.5 352.2L54.5 357.3L54.5 362.4L54.5 367.5L54.5 372.6L54.5 377.8L54.5 382.9L54.5 388.0L54.5 393.1L54.5 398.2L54.5 403.3L54.5 408.4L54.5 413.6L54.5 418.7L54.5 423.8L54.5 428.9ZM111.5 374.8L111.4 372.6L111.5 372.2L111.6 372.6ZM134.3 337.0L134.1 336.9L128.9 331.8L127.3 326.6L126.7 321.5L126.8 316.4L127.2 311.3L127.8 306.2L129.2 301.1L134.2 296.0L134.3 295.9L134.3 296.0L135.1 301.1L135.4 306.2L135.6 311.3L135.8 316.4L135.9 321.5L135.7 326.6L135.2 331.8L134.3 336.9ZM157.1 367.3L156.2 362.4L157.1 357.6L158.3 362.4ZM191.3 316.4L191.3 316.4L186.5 311.3L185.7 306.2L185.6 301.1L185.6 296.0L186.0 290.9L188.7 285.7L191.3 284.4L191.7 285.7L192.5 290.9L192.6 296.0L192.6 301.1L192.6 306.2L192.4 311.3L191.3 316.4ZM236.9 357.3L236.9 357.3L234.7 352.2L234.1 347.1L234.1 342.0L234.1 336.9L234.2 331.8L234.6 326.6L235.0 321.5L235.2 316.4L235.3 311.3L235.4 306.2L235.9 301.1L236.9 297.7L238.9 301.1L239.7 306.2L239.7 311.3L239.8 316.4L239.8 321.5L239.8 326.6L239.8 331.8L239.8 336.9L239.7 342.0L239.7 347.1L239.0 352.2L236.9 357.3ZM396.5 316.4L396.5 316.4L390.8 311.3L385.1 309.1L382.2 306.2L376.2 301.1L373.7 299.5L369.7 296.0L365.9 290.9L362.3 285.7L362.3 285.7L356.2 280.6L351.0 275.5L350.9 275.4L346.1 270.4L345.3 265.3L345.2 260.2L345.2 255.1L345.2 250.0L345.2 244.8L345.2 239.7L345.3 234.6L345.9 229.5L347.1 224.4L347.8 219.3L348.1 214.2L348.7 209.1L350.9 204.1L351.2 203.9L357.5 198.8L362.3 193.9L362.6 193.7L373.7 190.8L379.4 193.7L385.1 196.6L396.5 193.7L396.5 193.7L407.9 192.6L418.0 193.7L419.3 194.0L422.2 198.8L419.3 203.5L407.9 201.2L405.3 203.9L402.4 209.1L401.1 214.2L400.3 219.3L399.8 224.4L399.4 229.5L399.3 234.6L398.6 239.7L396.5 244.8L396.5 244.8L395.1 250.0L394.6 255.1L394.6 260.2L394.6 265.3L394.5 270.4L394.2 275.5L393.8 280.6L393.8 285.7L394.9 290.9L396.5 293.4L397.2 296.0L397.8 301.1L397.8 306.2L397.5 311.3L396.5 316.4ZM453.5 275.6L453.5 275.5L450.4 270.4L447.8 265.3L445.7 260.2L445.0 255.1L445.0 250.0L445.0 244.8L445.0 239.7L445.0 234.6L444.9 229.5L444.9 224.4L444.3 219.3L442.1 214.3L441.9 214.2L437.2 209.1L435.3 203.9L434.4 198.8L434.1 193.7L434.1 188.6L434.0 183.5L434.0 178.4L434.0 173.3L434.1 168.2L434.9 163.0L437.6 157.9L442.1 155.7L447.8 157.9L453.5 160.1L464.9 159.5L470.7 163.0L473.0 168.2L473.4 173.3L472.9 178.4L471.8 183.5L471.0 188.6L471.0 193.7L471.3 198.8L471.4 203.9L471.5 209.1L471.6 214.2L471.7 219.3L471.8 224.4L471.9 229.5L472.0 234.6L472.1 239.7L472.3 244.8L472.4 249.9L472.5 255.1L472.4 260.2L471.7 265.3L469.9 270.4L465.0 275.5L464.9 275.6ZM476.3 326.6L476.3 326.6L474.8 321.5L474.3 316.4L474.0 311.3L473.8 306.2L474.1 301.1L476.3 296.0L478.4 301.1L479.1 306.2L479.1 311.3L479.1 316.4L478.5 321.5L476.3 326.6ZM510.5 347.1L510.5 347.1L499.1 347.0L497.1 342.0L497.1 336.9L498.0 331.8L499.1 326.6L499.1 326.6L502.7 321.5L510.5 316.5L515.3 321.5L516.1 326.6L516.2 331.8L516.1 336.9L515.3 342.0L510.5 347.1ZM224.3 173.3L225.5 177.2L236.9 177.2L240.3 173.3L244.5 168.2L248.3 163.0L248.3 163.0L251.1 157.9L252.8 152.8L253.7 147.7L254.0 142.6L254.1 137.5L254.2 132.4L254.5 127.2L255.4 122.1L256.5 117.0L257.0 111.9L257.1 106.8L257.1 101.7L257.2 96.6L257.2 91.5L257.2 86.4L257.3 81.2L257.9 76.1L259.7 71.0L259.7 71.0L261.1 65.9L259.7 65.9L248.3 65.9L236.9 65.9L225.5 65.9L214.1 65.9L209.8 65.9L209.8 71.0L209.8 76.1L209.8 81.2L209.9 86.4L209.9 91.5L209.9 96.6L209.9 101.7L210.0 106.8L210.0 111.9L210.0 117.0L209.9 122.1L209.7 127.2L209.5 132.4L209.3 137.5L209.3 142.6L209.8 147.7L211.8 152.8L214.1 155.5L216.5 157.9L220.4 163.0L222.7 168.2Z"/>
<path fill="#28b914" d="M54.5 434.0L65.9 434.0L77.3 434.0L88.7 434.0L100.1 434.0L111.5 434.0L122.9 434.0L128.6 434.0L128.6 428.9L128.9 423.8L129.7 418.7L130.4 413.6L130.7 408.4L130.8 403.3L130.8 398.2L130.8 393.1L130.8 388.0L130.8 382.9L130.5 377.8L129.3 372.6L124.8 367.5L122.9 366.4L121.7 367.5L118.5 372.6L117.1 377.8L116.3 382.9L115.7 388.0L115.0 393.1L114.3 398.2L113.5 403.3L112.7 408.4L111.5 413.6L111.5 413.6L111.5 413.6L109.2 408.4L107.7 403.3L106.6 398.2L105.7 393.1L105.0 388.0L104.4 382.9L104.0 377.8L103.9 372.6L104.4 367.5L105.8 362.4L108.5 357.3L111.5 353.7L113.0 352.2L114.8 347.1L115.5 342.0L116.0 336.9L116.4 331.8L116.8 326.6L116.7 321.5L115.2 316.4L111.5 311.3L100.1 311.3L88.7 311.3L77.3 311.3L65.9 311.3L54.5 311.3L54.5 316.4L54.5 321.5L54.5 326.6L54.5 331.8L54.5 336.9L54.5 342.0L54.5 347.1L54.5 352.2L54.5 357.3L54.5 362.4L54.5 367.5L54.5 372.6L54.5 377.8L54.5 382.9L54.5 388.0L54.5 393.1L54.5 398.2L54.5 403.3L54.5 408.4L54.5 413.6L54.5 418.7L54.5 423.8L54.5 428.9ZM140.0 434.0L145.7 434.0L151.4 434.0L151.4 428.9L151.4 423.8L151.4 418.7L151.4 413.6L151.4 408.4L151.4 403.3L151.4 398.2L151.4 393.1L151.4 388.0L151.4 382.9L151.4 377.8L151.4 372.6L151.5 367.5L152.0 362.4L153.3 357.3L154.8 352.2L155.4 347.1L155.7 342.0L155.8 336.9L155.9 331.7L156.0 326.6L156.1 321.5L156.1 316.4L156.1 311.3L156.1 306.2L156.0 301.1L155.8 296.0L155.1 290.9L152.4 285.7L145.7 281.9L139.1 285.7L136.7 290.9L136.7 296.0L136.9 301.1L137.1 306.2L137.2 311.3L137.4 316.4L137.5 321.5L137.4 326.6L137.1 331.8L136.6 336.9L136.1 342.0L136.0 347.1L136.2 352.2L136.6 357.3L137.1 362.4L138.1 367.5L139.3 372.6L139.9 377.8L140.0 382.9L140.0 388.0L140.0 393.1L140.0 398.2L140.0 403.3L140.0 408.4L140.0 413.6L140.0 418.7L140.0 423.8L140.0 428.9ZM159.0 434.0L168.5 434.0L179.9 434.0L185.6 434.0L185.6 428.9L185.6 423.8L185.6 418.7L185.6 413.6L185.6 408.4L185.6 403.3L185.6 398.2L185.6 393.1L185.6 388.0L185.6 382.9L185.6 377.8L185.6 372.6L185.7 367.5L186.3 362.4L187.5 357.3L188.2 352.2L188.4 347.1L188.0 342.0L185.6 336.9L179.9 333.3L168.5 333.3L162.8 336.9L160.4 342.0L160.0 347.1L160.7 352.2L162.7 357.3L163.6 362.4L161.6 367.5L159.6 372.6L159.1 377.8L159.0 382.9L159.0 388.0L159.0 393.1L159.0 398.2L159.0 403.3L159.0 408.4L159.0 413.6L159.0 418.7L159.0 423.8L159.0 428.9ZM197.0 434.0L202.7 434.0L214.1 434.0L225.5 434.0L231.2 434.0L231.2 428.9L231.2 423.8L231.2 418.7L231.2 413.6L231.2 408.4L231.2 403.3L231.2 398.2L231.2 393.1L231.2 388.0L231.2 382.9L231.2 377.8L231.2 372.6L231.1 367.5L230.5 362.4L229.3 357.3L228.6 352.2L228.4 347.1L228.4 342.0L228.4 336.9L228.9 331.8L230.1 326.6L231.1 321.5L231.7 316.4L232.2 311.3L232.4 306.2L232.9 301.1L234.0 296.0L234.8 290.9L233.2 285.7L230.0 280.6L225.5 276.4L225.3 275.5L224.2 270.4L223.0 265.3L222.0 260.2L221.1 255.1L220.2 250.0L219.0 244.8L217.5 239.7L215.3 234.6L214.1 232.8L206.0 229.5L204.5 224.4L204.0 219.3L203.8 214.2L203.7 209.1L203.6 203.9L203.4 198.8L202.7 193.9L192.1 198.8L194.4 203.9L196.8 209.1L197.8 214.2L198.3 219.3L198.5 224.4L198.5 229.5L198.5 234.6L198.2 239.7L197.6 244.8L196.7 249.9L195.4 255.1L193.7 260.2L191.4 265.3L191.3 265.6L191.0 265.3L186.2 260.2L184.8 255.1L184.3 249.9L184.1 244.8L184.1 239.7L184.1 234.6L184.1 229.5L184.1 224.4L184.3 219.3L184.7 214.2L184.9 209.1L179.9 203.9L168.5 204.1L157.1 203.9L152.3 209.1L151.5 214.2L151.4 219.3L151.4 224.4L151.4 229.5L151.4 234.6L151.4 239.7L151.4 244.8L151.4 250.0L151.4 255.1L151.4 260.2L151.5 265.3L152.3 270.4L157.1 275.5L168.5 275.5L179.9 275.5L191.3 274.9L191.4 275.5L193.2 280.6L194.6 285.7L195.1 290.9L195.2 296.0L195.3 301.1L195.4 306.2L195.3 311.3L194.7 316.4L193.9 321.5L193.8 326.6L194.1 331.8L194.4 336.9L194.8 342.0L195.6 347.1L196.5 352.2L197.0 357.3L197.0 362.4L197.0 367.5L197.0 372.6L197.0 377.8L197.0 382.9L197.0 388.0L197.0 393.1L197.0 398.2L197.0 403.3L197.0 408.4L197.0 413.6L197.0 418.7L197.0 423.8L197.0 428.9ZM240.4 434.0L248.3 434.0L259.7 434.0L271.1 434.0L282.5 434.0L287.4 434.0L287.4 428.9L287.4 423.8L287.4 418.7L287.4 413.6L287.4 408.4L287.4 403.3L287.4 398.2L287.4 393.1L287.4 388.0L287.4 382.9L287.4 377.8L287.4 372.6L287.4 367.5L287.2 362.4L286.5 357.3L285.0 352.2L282.5 347.1L282.4 347.1L271.1 343.6L269.6 342.0L268.3 336.9L268.0 331.8L267.3 326.6L266.1 321.5L265.5 316.4L265.4 311.3L265.4 306.2L265.4 301.1L265.4 296.0L265.4 290.9L265.3 285.7L264.5 280.6L259.7 275.7L248.3 280.6L248.3 280.6L245.8 285.7L243.1 290.9L244.1 296.0L245.2 301.1L245.4 306.2L245.4 311.3L245.5 316.4L245.5 321.5L245.5 326.6L245.5 331.8L245.5 336.9L245.4 342.0L245.4 347.1L244.9 352.2L243.1 357.3L241.2 362.4L240.4 367.5L240.4 372.6L240.4 377.8L240.4 382.9L240.4 388.0L240.4 393.1L240.4 398.2L240.4 403.3L240.4 408.4L240.4 413.6L240.4 418.7L240.4 423.8L240.4 428.9ZM337.6 434.0L339.5 434.0L350.9 434.0L362.3 434.0L373.7 434.0L385.1 434.0L390.8 434.0L390.8 428.9L390.8 423.8L390.8 418.7L390.8 413.6L390.8 408.4L390.8 403.3L390.8 398.2L390.8 393.1L390.8 388.0L390.8 382.9L390.8 377.8L390.8 372.6L390.8 367.5L390.8 362.4L390.8 357.3L390.8 352.2L390.8 347.1L390.8 342.0L390.8 336.9L390.8 331.8L390.7 326.6L389.2 321.5L385.1 316.7L384.9 316.4L381.2 311.3L376.4 306.2L373.7 304.1L370.0 301.1L364.8 296.0L362.3 293.0L356.6 290.9L350.9 285.9L346.1 290.9L345.2 296.0L344.6 301.1L342.4 306.2L339.5 309.8L339.1 311.3L338.7 316.4L338.6 321.5L338.6 326.6L338.5 331.8L338.4 336.9L338.3 342.0L338.2 347.1L338.1 352.2L338.1 357.3L337.9 362.4L337.8 367.5L337.7 372.6L337.6 377.8L337.6 382.9L337.6 388.0L337.6 393.1L337.6 398.2L337.6 403.3L337.6 408.4L337.6 413.5L337.6 418.7L337.6 423.8L337.6 428.9ZM398.4 434.0L407.9 434.0L419.3 434.0L430.7 434.0L442.1 434.0L453.5 434.0L464.9 434.0L474.4 434.0L474.4 428.9L474.4 423.8L474.4 418.7L474.4 413.6L474.4 408.4L474.4 403.3L474.4 398.2L474.4 393.1L474.4 388.0L474.4 382.9L474.4 377.8L474.4 372.6L474.4 367.5L474.4 362.4L474.4 357.3L474.3 352.2L474.0 347.1L473.6 342.0L473.4 336.9L472.9 331.8L471.7 326.6L470.7 321.5L470.1 316.4L469.5 311.3L468.7 306.2L468.0 301.1L467.2 296.0L464.9 290.9L453.5 290.9L453.5 290.9L449.6 285.7L447.4 280.6L445.8 275.5L444.3 270.4L442.1 265.3L434.7 270.4L433.8 275.5L433.6 280.6L433.2 285.7L430.7 289.1L429.7 285.7L429.5 280.6L429.5 275.5L429.4 270.4L429.3 265.3L429.1 260.2L428.6 255.1L427.6 250.0L427.0 244.8L426.8 239.7L426.7 234.6L426.6 229.5L426.4 224.4L425.5 219.3L419.3 214.3L407.9 219.3L407.9 219.3L406.3 224.4L405.4 229.5L405.0 234.6L404.3 239.7L402.1 244.8L399.8 250.0L398.7 255.1L398.4 260.2L398.4 265.3L398.4 270.4L398.4 275.5L398.4 280.6L398.5 285.7L399.1 290.9L400.1 296.0L400.4 301.1L400.4 306.2L400.2 311.3L399.5 316.4L398.6 321.5L398.2 326.6L398.2 331.8L398.2 336.9L398.2 342.0L398.2 347.1L398.2 352.2L398.2 357.3L398.2 362.4L398.2 367.5L398.2 372.6L398.3 377.8L398.3 382.9L398.3 388.0L398.3 393.1L398.3 398.2L398.3 403.3L398.3 408.4L398.3 413.6L398.4 418.7L398.4 423.8L398.4 428.9ZM482.0 434.0L487.7 434.0L493.4 434.0L493.4 428.9L493.4 423.8L493.4 418.7L493.4 413.6L493.4 408.4L493.4 403.3L493.4 398.2L493.4 393.1L493.4 388.0L493.4 382.9L493.4 377.8L493.4 372.6L493.4 367.5L493.4 362.4L493.3 357.3L492.7 352.2L491.5 347.1L490.8 342.0L490.8 336.9L491.1 331.8L491.5 326.6L492.0 321.5L492.6 316.4L494.0 311.3L499.1 306.3L499.3 306.2L507.6 301.1L510.5 296.0L510.5 296.0L510.5 296.0L514.1 301.1L521.9 306.2L533.3 306.2L544.7 306.2L544.7 301.1L544.7 296.0L544.7 290.9L544.7 285.7L544.7 280.6L544.7 275.5L544.7 270.4L544.7 265.3L544.7 260.2L544.7 255.1L544.7 250.0L544.7 244.8L544.7 239.7L544.7 234.6L544.7 229.5L544.7 224.4L544.7 219.3L544.7 214.2L544.7 209.1L544.7 203.9L544.7 198.8L544.7 193.7L533.3 193.7L533.3 193.7L527.6 188.6L521.9 183.5L521.9 183.5L517.1 178.4L516.2 173.3L515.3 168.2L510.5 163.2L499.1 163.2L487.7 163.0L482.0 168.2L480.1 173.3L478.7 178.4L476.3 183.5L476.3 183.6L475.0 188.6L475.0 193.7L475.5 198.8L475.8 203.9L476.0 209.1L476.1 214.2L476.3 219.3L476.3 220.1L476.4 224.4L476.6 229.5L476.8 234.6L476.9 239.7L477.0 244.8L477.2 250.0L477.3 255.1L477.5 260.2L477.6 265.3L477.8 270.4L478.2 275.5L478.7 280.6L479.0 285.7L479.9 290.9L482.0 296.0L484.1 301.1L484.8 306.2L484.8 311.3L484.8 316.4L484.6 321.5L483.9 326.6L482.7 331.8L482.1 336.9L482.0 342.0L482.0 347.1L482.0 352.2L482.0 357.3L482.0 362.4L482.0 367.5L482.0 372.6L482.0 377.8L482.0 382.9L482.0 388.0L482.0 393.1L482.0 398.2L482.0 403.3L482.0 408.4L482.0 413.6L482.0 418.7L482.0 423.8L482.0 428.9ZM327.0 280.6L328.1 282.7L330.5 280.6L333.8 275.5L335.6 270.4L336.4 265.3L336.5 260.2L336.1 255.1L334.8 250.0L333.9 244.8L333.8 239.7L333.9 234.6L334.7 229.5L339.5 224.4L339.5 224.4L341.7 219.3L342.3 214.2L342.6 209.1L343.3 203.9L344.3 198.8L339.5 193.7L339.5 193.7L331.7 188.6L328.1 183.5L328.1 183.5L328.1 183.5L326.9 188.6L325.8 193.7L324.2 198.8L321.7 203.9L316.7 208.5L315.7 209.1L312.3 214.2L311.3 219.3L311.0 224.4L310.3 229.5L308.2 234.6L306.8 239.7L309.0 244.8L311.5 250.0L316.7 255.0L316.7 255.1L319.2 260.2L320.4 265.3L321.9 270.4L324.3 275.5ZM118.1 270.4L122.9 275.5L134.3 271.7L135.5 270.4L136.8 265.3L136.9 260.2L136.9 255.1L136.9 250.0L136.9 244.8L136.9 239.7L136.8 234.6L135.5 229.5L134.3 228.2L122.9 224.4L118.1 229.5L117.3 234.6L117.2 239.7L117.2 244.8L117.2 250.0L117.2 255.1L117.2 260.2L117.3 265.3ZM83.7 265.3L88.7 267.4L93.7 265.3L100.1 261.5L101.3 260.2L102.6 255.1L102.7 249.9L102.6 244.8L101.3 239.7L100.1 238.4L95.3 234.6L88.7 229.5L88.7 229.5L77.3 228.2L76.1 229.5L74.8 234.6L74.7 239.7L74.7 244.8L74.7 250.0L74.8 255.1L76.1 260.2L77.3 261.5ZM280.4 234.6L282.5 237.9L293.9 238.9L301.8 234.6L300.2 229.5L299.7 224.4L299.6 219.3L299.6 214.2L299.5 209.1L299.0 203.9L297.9 198.8L297.1 193.7L296.8 188.6L296.8 183.5L296.7 178.4L296.7 173.3L296.1 168.2L293.9 163.2L282.5 163.2L275.3 168.2L271.1 171.3L270.5 173.3L269.5 178.4L269.3 183.5L269.7 188.6L271.1 193.6L271.4 193.7L276.8 198.8L278.7 203.9L279.4 209.1L279.6 214.2L279.6 219.3L279.7 224.4L279.7 229.5ZM345.2 188.6L350.9 193.6L355.7 188.6L362.3 183.5L362.3 183.5L373.7 183.2L374.2 183.5L382.1 188.6L385.1 190.2L388.1 188.6L390.6 183.5L390.8 178.4L390.8 173.3L390.8 168.2L390.9 163.0L391.7 157.9L396.5 152.8L396.5 152.8L398.9 147.7L399.3 142.6L399.3 137.5L399.3 132.4L399.3 127.2L399.2 122.1L398.8 117.0L398.5 111.9L398.2 106.8L398.1 101.7L398.0 96.6L397.9 91.5L397.9 86.4L397.9 81.2L397.9 76.1L397.9 71.0L397.9 65.9L396.5 65.9L385.1 65.9L373.7 65.9L362.3 65.9L350.9 65.9L345.2 65.9L345.0 71.0L344.9 76.1L344.7 81.2L344.6 86.4L344.6 91.5L344.5 96.6L344.5 101.7L344.5 106.8L344.4 111.9L344.4 117.0L344.4 122.1L344.3 127.2L344.3 132.4L344.0 137.5L343.2 142.6L342.2 147.7L342.0 152.8L342.4 157.9L343.3 163.0L344.5 168.2L345.1 173.3L345.2 178.4L345.2 183.5ZM121.7 168.2L122.9 169.5L124.1 168.2L125.4 163.0L125.5 157.9L125.5 152.8L125.5 147.7L125.5 142.6L125.5 137.5L125.5 132.4L125.5 127.2L125.5 122.1L125.5 117.0L125.4 111.9L124.1 106.8L122.9 105.5L121.7 106.8L120.4 111.9L120.3 117.0L120.3 122.1L120.3 127.2L120.3 132.4L120.3 137.5L120.3 142.6L120.3 147.7L120.3 152.8L120.3 157.9L120.4 163.0ZM225.5 168.2L225.5 168.2L230.0 168.2L236.9 168.0L240.7 163.0L244.1 157.9L248.2 152.8L248.3 152.7L249.8 147.7L250.2 142.6L250.4 137.5L250.4 132.4L250.6 127.2L251.0 122.1L251.5 117.0L251.8 111.9L251.9 106.8L252.0 101.7L252.1 96.6L252.2 91.5L252.3 86.4L252.4 81.2L252.9 76.1L254.5 71.0L256.2 65.9L248.3 65.9L236.9 65.9L225.5 65.9L214.1 65.9L211.8 65.9L211.8 71.0L211.8 76.1L211.9 81.2L211.9 86.4L211.9 91.5L212.0 96.6L212.0 101.7L212.0 106.8L212.1 111.9L212.1 117.0L212.1 122.1L212.0 127.2L211.9 132.4L211.8 137.5L211.9 142.6L212.6 147.7L214.1 150.8L215.9 152.8L220.5 157.9L223.5 163.0ZM54.5 147.7L54.5 149.4L56.2 147.7L58.2 142.6L59.5 137.5L62.5 132.4L65.9 128.8L67.4 127.2L69.2 122.1L69.9 117.0L70.4 111.9L70.8 106.8L71.2 101.7L71.6 96.6L71.9 91.5L72.2 86.4L72.4 81.2L72.7 76.1L72.9 71.0L73.0 65.9L65.9 65.9L54.5 65.9L54.5 71.0L54.5 76.1L54.5 81.2L54.5 86.4L54.5 91.5L54.5 96.6L54.5 101.7L54.5 106.8L54.5 111.9L54.5 117.0L54.5 122.1L54.5 127.2L54.5 132.4L54.5 137.5L54.5 142.6ZM438.3 147.7L442.1 149.3L453.5 152.5L458.3 147.7L459.1 142.6L459.2 137.5L459.2 132.4L459.2 127.2L459.2 122.1L459.2 117.0L459.2 111.9L459.2 106.8L459.3 101.7L459.9 96.6L461.1 91.5L461.8 86.4L462.0 81.2L461.5 76.1L460.3 71.0L459.5 65.9L453.5 65.9L442.1 65.9L430.7 65.9L427.8 65.9L427.8 71.0L427.8 76.1L427.8 81.2L427.8 86.4L427.8 91.5L427.8 96.6L427.8 101.7L427.9 106.8L427.9 111.9L428.5 117.0L430.7 122.1L430.7 122.1L435.5 127.2L436.3 132.4L436.3 137.5L436.3 142.6ZM97.3 137.5L100.1 142.6L102.9 137.5L104.6 132.4L105.5 127.2L105.8 122.1L105.8 117.0L105.8 111.9L105.8 106.8L105.8 101.7L105.8 96.6L105.8 91.5L105.8 86.4L105.8 81.2L105.8 76.1L105.8 71.0L105.8 65.9L100.1 65.9L88.7 65.9L83.3 65.9L84.2 71.0L86.0 76.1L88.7 80.9L89.0 81.2L91.7 86.4L93.3 91.5L94.1 96.6L94.4 101.7L94.4 106.8L94.4 111.9L94.4 117.0L94.4 122.1L94.7 127.2L95.6 132.4ZM144.5 86.4L145.7 87.7L146.1 86.4L146.7 81.2L146.7 76.1L146.7 71.0L146.7 65.9L145.7 65.9L143.1 65.9L143.1 71.0L143.1 76.1L143.2 81.2Z"/>
<path fill="#6ecd14" d="M162.8 434.0L168.5 434.0L177.0 434.0L177.0 428.9L177.0 423.8L177.0 418.7L177.0 413.6L177.0 408.4L177.0 403.3L177.0 398.2L177.0 393.1L177.0 388.0L177.0 382.9L177.0 377.8L176.6 372.6L174.3 367.5L168.5 363.2L166.2 367.5L163.6 372.6L162.9 377.8L162.8 382.9L162.8 388.0L162.8 393.1L162.8 398.2L162.8 403.3L162.8 408.4L162.8 413.5L162.8 418.7L162.8 423.8L162.8 428.9ZM204.6 434.0L214.1 434.0L223.6 434.0L223.6 428.9L223.6 423.8L223.6 418.7L223.6 413.5L223.6 408.4L223.6 403.3L223.6 398.2L223.6 393.1L223.6 388.0L223.6 382.9L223.6 377.8L223.7 372.6L223.9 367.5L224.1 362.4L224.4 357.3L224.6 352.2L224.7 347.1L224.8 342.0L224.8 336.9L225.0 331.7L225.5 326.7L225.5 326.6L227.2 321.5L228.3 316.4L229.0 311.3L229.5 306.2L229.9 301.1L230.6 296.0L230.8 290.9L228.9 285.7L225.5 281.0L225.4 280.6L224.4 275.5L223.3 270.4L222.2 265.3L221.1 260.2L220.2 255.1L219.3 250.0L217.9 244.8L216.2 239.7L214.1 235.5L205.3 239.7L203.7 244.8L202.9 250.0L202.7 251.9L201.6 255.1L199.5 260.2L197.1 265.3L195.3 270.4L195.7 275.5L196.6 280.6L197.4 285.7L197.8 290.9L197.9 296.0L197.9 301.1L198.1 306.2L198.3 311.3L198.2 316.4L198.1 321.5L198.7 326.6L199.7 331.8L200.7 336.9L201.9 342.0L202.7 344.0L203.0 347.1L203.5 352.2L203.8 357.3L204.1 362.4L204.3 367.5L204.5 372.6L204.6 377.8L204.6 382.9L204.6 388.0L204.6 393.1L204.6 398.2L204.6 403.3L204.6 408.4L204.6 413.5L204.6 418.7L204.6 423.8L204.6 428.9ZM247.3 434.0L248.3 434.0L259.7 434.0L271.1 434.0L282.5 434.0L283.1 434.0L283.1 428.9L283.1 423.8L283.1 418.7L283.1 413.6L283.1 408.4L283.1 403.3L283.1 398.2L283.1 393.1L283.1 388.0L283.1 382.9L283.1 377.8L283.1 372.6L283.1 367.5L282.8 362.4L282.5 361.2L279.3 357.3L274.4 352.2L271.1 350.6L265.4 347.1L263.0 342.0L262.5 336.9L261.9 331.8L259.7 326.6L259.7 326.6L259.7 326.6L254.9 331.8L254.1 336.9L254.0 342.0L254.0 347.1L253.4 352.2L251.3 357.3L248.3 361.1L247.9 362.4L247.3 367.5L247.3 372.6L247.3 377.8L247.3 382.9L247.3 388.0L247.3 393.1L247.3 398.2L247.3 403.3L247.3 408.4L247.3 413.6L247.3 418.7L247.3 423.8L247.3 428.9ZM353.8 434.0L362.3 434.0L373.7 434.0L383.2 434.0L383.2 428.9L383.2 423.8L383.2 418.7L383.2 413.5L383.2 408.4L383.2 403.3L383.2 398.2L383.2 393.1L383.2 388.0L383.2 382.9L383.2 377.8L383.2 372.6L383.2 367.5L383.2 362.4L383.2 357.3L383.1 352.2L382.8 347.1L382.2 342.0L381.3 336.9L380.1 331.8L379.4 326.6L378.7 321.5L377.3 316.4L375.1 311.3L373.7 309.8L369.7 306.2L364.4 301.1L362.3 298.9L357.5 301.1L354.8 306.2L354.0 311.3L353.8 316.4L353.8 321.5L353.8 326.6L353.8 331.8L353.8 336.9L353.8 342.0L353.8 347.1L353.8 352.2L353.8 357.3L353.8 362.4L353.8 367.5L353.8 372.6L353.8 377.8L353.8 382.9L353.8 388.0L353.8 393.1L353.8 398.2L353.8 403.3L353.8 408.4L353.8 413.6L353.8 418.7L353.8 423.8L353.8 428.9ZM402.2 434.0L407.9 434.0L419.3 434.0L430.7 434.0L442.1 434.0L453.5 434.0L464.9 434.0L470.6 434.0L470.6 428.9L470.6 423.8L470.6 418.7L470.6 413.5L470.6 408.4L470.6 403.3L470.6 398.2L470.6 393.1L470.6 388.0L470.6 382.9L470.6 377.8L470.6 372.6L470.6 367.5L470.6 362.4L470.6 357.3L470.3 352.2L469.5 347.1L468.3 342.0L467.8 336.9L467.6 331.8L467.2 326.6L466.7 321.5L465.9 316.4L464.9 311.3L464.9 311.3L453.5 306.2L453.5 306.2L442.1 306.0L436.8 301.1L430.7 298.2L428.7 296.0L424.5 290.9L422.9 285.7L422.7 280.6L422.7 275.5L422.7 270.4L422.6 265.3L421.9 260.2L419.3 255.1L419.3 255.1L414.9 249.9L408.3 244.8L407.9 244.6L407.8 244.8L404.9 250.0L403.0 255.1L402.3 260.2L402.2 265.3L402.2 270.4L402.2 275.5L402.2 280.6L402.2 285.7L402.6 290.9L403.0 296.0L403.1 301.1L403.0 306.2L402.9 311.3L402.4 316.4L401.9 321.5L401.6 326.6L401.6 331.8L401.6 336.9L401.6 342.0L401.6 347.1L401.6 352.2L401.6 357.3L401.7 362.4L401.7 367.5L401.7 372.6L401.8 377.8L401.8 382.9L401.8 388.0L401.9 393.1L401.9 398.2L402.0 403.3L402.0 408.4L402.0 413.6L402.1 418.7L402.1 423.8L402.2 428.9ZM122.0 408.4L122.9 411.8L123.6 408.4L123.9 403.3L123.9 398.2L123.9 393.1L123.9 388.0L123.9 382.9L123.0 377.8L122.9 377.5L122.8 377.8L122.1 382.9L122.0 388.0L121.9 393.1L121.8 398.2L121.7 403.3ZM145.6 367.5L145.7 367.7L145.8 367.5L147.8 362.4L149.5 357.3L151.2 352.2L152.2 347.1L152.8 342.0L153.3 336.9L153.6 331.8L153.9 326.6L154.1 321.5L154.2 316.4L154.2 311.3L154.1 306.2L153.8 301.1L153.2 296.0L151.1 290.9L145.7 286.6L140.5 290.9L139.0 296.0L138.8 301.1L138.8 306.2L138.8 311.3L139.0 316.4L139.1 321.5L139.1 326.6L139.0 331.8L138.9 336.9L138.8 342.0L139.2 347.1L140.0 352.2L141.1 357.3L142.8 362.4ZM168.4 357.3L168.5 358.3L179.9 357.3L179.9 357.3L182.1 352.2L182.6 347.1L181.4 342.0L179.9 340.4L168.5 340.4L167.0 342.0L165.8 347.1L166.4 352.2ZM487.7 296.0L487.7 296.0L487.7 296.0L499.1 295.8L502.6 290.9L504.0 285.7L505.4 280.6L510.4 275.5L510.5 275.5L515.8 270.4L518.9 265.3L521.9 261.5L523.1 260.2L524.3 255.1L523.1 250.0L521.9 248.6L518.9 244.8L515.8 239.7L510.5 234.6L510.5 234.6L507.8 229.5L507.1 224.4L507.0 219.3L506.7 214.2L506.2 209.1L505.6 203.9L504.2 198.8L499.2 193.7L499.1 193.7L494.3 188.6L493.4 183.5L492.5 178.4L487.7 173.4L485.3 178.4L484.0 183.5L482.9 188.6L482.8 193.7L482.7 198.8L481.6 203.9L480.9 209.1L480.8 214.2L480.8 219.3L480.9 224.4L481.0 229.5L481.1 234.6L481.2 239.7L481.3 244.8L481.4 249.9L481.5 255.1L481.6 260.2L481.7 265.3L482.0 270.4L482.9 275.5L484.2 280.6L484.8 285.7L485.6 290.9ZM326.1 265.3L328.1 270.1L330.3 265.3L330.6 260.2L329.2 255.1L328.1 253.2L326.5 255.1L325.4 260.2ZM362.3 173.3L362.3 173.3L362.3 173.3L368.0 168.2L370.0 163.0L371.5 157.9L373.7 153.1L374.1 152.8L380.7 147.7L385.1 142.7L385.3 142.6L390.8 137.5L392.7 132.4L393.5 127.2L393.7 122.1L393.8 117.0L393.8 111.9L393.9 106.8L393.9 101.7L394.0 96.6L394.0 91.5L394.2 86.4L394.4 81.2L394.6 76.1L394.7 71.0L394.8 65.9L385.1 65.9L373.7 65.9L362.3 65.9L350.9 65.9L348.9 65.9L348.7 71.0L348.5 76.1L348.2 81.2L348.1 86.4L347.9 91.5L347.9 96.6L347.8 101.7L347.8 106.8L347.7 111.9L347.6 117.0L347.6 122.1L347.5 127.2L347.5 132.4L347.3 137.5L346.8 142.6L346.4 147.7L346.9 152.8L348.3 157.9L350.8 163.0L350.9 163.1L355.7 168.2ZM224.5 157.9L225.5 160.0L233.0 157.9L236.9 155.8L238.7 152.8L241.8 147.7L243.8 142.6L244.8 137.5L245.4 132.4L245.8 127.2L246.0 122.1L246.1 117.0L246.3 111.9L246.4 106.8L246.5 101.7L246.7 96.6L246.8 91.5L247.0 86.4L247.2 81.2L247.8 76.1L248.3 74.7L249.2 71.0L250.6 65.9L248.3 65.9L236.9 65.9L225.5 65.9L214.1 65.9L213.8 65.9L213.8 71.0L213.9 76.1L213.9 81.2L213.9 86.4L214.0 91.5L214.0 96.6L214.1 101.7L214.1 106.8L214.1 106.8L214.2 111.9L214.2 117.0L214.3 122.1L214.4 127.2L214.5 132.4L214.6 137.5L214.9 142.6L216.9 147.7L221.0 152.8ZM442.1 101.7L442.1 101.7L442.1 101.7L447.8 96.6L453.5 91.5L453.5 91.5L455.7 86.4L456.3 81.2L456.2 76.1L455.8 71.0L455.5 65.9L453.5 65.9L442.1 65.9L436.4 65.9L436.4 71.0L436.4 76.1L436.4 81.2L436.4 86.4L436.5 91.5L437.3 96.6Z"/>
<path fill="#b9e60a" d="M166.6 434.0L168.5 434.0L171.4 434.0L171.4 428.9L171.4 423.8L171.4 418.7L171.4 413.6L171.4 408.4L171.4 403.3L171.4 398.2L171.4 393.1L171.4 388.0L171.3 382.9L171.3 377.8L170.0 372.6L168.5 371.0L167.6 372.6L166.7 377.8L166.6 382.9L166.6 388.0L166.6 393.1L166.6 398.2L166.6 403.3L166.6 408.4L166.6 413.6L166.6 418.7L166.6 423.8L166.6 428.9ZM208.4 434.0L214.1 434.0L219.8 434.0L219.8 428.9L219.8 423.8L219.8 418.7L219.8 413.5L219.8 408.4L219.8 403.3L219.8 398.2L219.8 393.1L219.8 388.0L219.8 382.9L219.8 377.8L220.0 372.6L220.6 367.5L221.4 362.4L222.1 357.3L222.7 352.2L223.1 347.1L223.3 342.0L223.5 336.9L223.7 331.8L224.2 326.6L224.8 321.5L225.3 316.4L225.5 313.2L225.8 311.3L226.5 306.2L226.9 301.1L227.2 296.0L226.8 290.9L225.5 287.7L225.3 285.7L224.4 280.6L223.5 275.5L222.4 270.4L221.3 265.3L220.3 260.2L219.4 255.1L218.3 250.0L216.8 244.8L214.8 239.7L214.1 238.3L211.2 239.7L206.8 244.8L205.0 249.9L204.1 255.1L203.4 260.2L202.7 265.3L202.7 265.3L200.6 270.4L199.9 275.5L200.0 280.6L200.3 285.7L200.4 290.9L200.5 296.0L200.6 301.1L200.9 306.2L201.2 311.3L201.6 316.4L202.2 321.5L202.7 323.5L202.9 326.6L203.4 331.8L203.7 336.9L204.1 342.0L204.7 347.1L205.4 352.2L206.1 357.3L206.8 362.4L207.6 367.5L208.2 372.6L208.4 377.8L208.4 382.9L208.4 388.0L208.4 393.1L208.4 398.2L208.4 403.3L208.4 408.4L208.4 413.5L208.4 418.7L208.4 423.8L208.4 428.9ZM359.4 434.0L362.3 434.0L373.7 434.0L379.4 434.0L379.4 428.9L379.4 423.8L379.4 418.7L379.4 413.5L379.4 408.4L379.4 403.3L379.4 398.2L379.4 393.1L379.4 388.0L379.4 382.9L379.4 377.8L379.4 372.6L379.4 367.5L379.4 362.4L379.4 357.3L379.1 352.2L378.2 347.1L376.6 342.0L373.8 336.9L373.7 336.7L368.9 331.8L368.1 326.6L368.0 321.5L367.8 316.4L365.9 311.3L362.3 306.5L360.1 311.3L359.5 316.4L359.5 321.5L359.5 326.6L359.5 331.8L359.5 336.9L359.5 342.0L359.5 347.1L359.5 352.2L359.5 357.3L359.5 362.4L359.5 367.5L359.5 372.6L359.5 377.8L359.5 382.9L359.5 388.0L359.5 393.1L359.5 398.2L359.5 403.3L359.5 408.4L359.5 413.6L359.5 418.7L359.5 423.8L359.5 428.9ZM406.0 434.0L407.9 434.0L419.3 434.0L430.7 434.0L442.1 434.0L453.5 434.0L464.9 434.0L466.8 434.0L466.8 428.9L466.8 423.8L466.8 418.7L466.8 413.6L466.8 408.4L466.8 403.3L466.8 398.2L466.8 393.1L466.8 388.0L466.8 382.9L466.8 377.8L466.8 372.6L466.8 367.5L466.8 362.4L466.8 357.3L466.3 352.2L464.9 347.1L464.9 347.1L460.8 342.0L459.3 336.9L458.8 331.8L457.2 326.6L453.5 321.5L453.5 321.5L442.1 316.4L442.1 316.4L435.8 311.3L430.7 306.4L430.6 306.2L427.0 301.1L422.4 296.0L419.3 292.4L416.0 290.9L413.8 285.7L413.6 280.6L413.6 275.5L413.6 270.4L413.5 265.3L412.6 260.2L409.4 255.1L407.9 253.7L407.2 255.1L406.2 260.2L406.0 265.3L406.0 270.4L406.0 275.5L406.0 280.6L406.0 285.7L406.0 290.9L405.9 296.0L405.8 301.1L405.7 306.2L405.6 311.3L405.4 316.4L405.1 321.5L405.0 326.6L405.0 331.8L405.0 336.9L405.0 342.0L405.0 347.1L405.0 352.2L405.1 357.3L405.1 362.4L405.2 367.5L405.2 372.6L405.3 377.8L405.4 382.9L405.4 388.0L405.5 393.1L405.5 398.2L405.6 403.3L405.7 408.4L405.7 413.6L405.8 418.7L405.9 423.8L405.9 428.9ZM145.7 357.3L145.7 357.3L145.7 357.3L147.5 352.2L148.9 347.1L150.0 342.0L150.8 336.9L151.3 331.8L151.7 326.6L152.0 321.5L152.2 316.4L152.2 311.3L152.0 306.2L151.6 301.1L150.6 296.0L147.2 290.9L145.7 289.7L144.3 290.9L141.3 296.0L140.7 301.1L140.4 306.2L140.4 311.3L140.5 316.4L140.7 321.5L140.9 326.6L141.0 331.8L141.2 336.9L141.6 342.0L142.5 347.1L143.8 352.2ZM487.7 275.5L487.7 275.5L487.7 275.5L492.5 270.4L493.3 265.3L493.4 260.2L493.4 255.1L494.0 250.0L496.1 244.8L499.1 241.1L500.1 239.7L500.5 234.6L500.2 229.5L500.1 224.4L499.8 219.3L499.1 214.8L498.7 214.2L495.4 209.1L487.7 203.9L487.7 203.9L487.7 203.9L485.9 209.1L485.4 214.2L485.4 219.3L485.4 224.4L485.5 229.5L485.5 234.6L485.5 239.7L485.6 244.8L485.6 250.0L485.6 255.1L485.7 260.2L485.7 265.3L486.2 270.4ZM362.3 163.0L362.3 163.0L362.3 163.0L365.4 157.9L368.0 152.8L371.1 147.7L373.7 144.7L376.3 142.6L381.2 137.5L385.0 132.4L385.1 132.2L387.4 127.2L388.1 122.1L388.3 117.0L388.5 111.9L388.6 106.8L388.8 101.7L388.9 96.6L389.1 91.5L389.5 86.4L390.1 81.2L390.7 76.1L391.1 71.0L391.3 65.9L385.1 65.9L373.7 65.9L362.3 65.9L352.7 65.9L352.6 71.0L352.3 76.1L352.0 81.2L351.7 86.4L351.6 91.5L351.4 96.6L351.3 101.7L351.2 106.8L351.1 111.9L350.9 117.0L350.9 117.0L350.8 122.1L350.7 127.2L350.7 132.4L350.6 137.5L350.5 142.6L350.7 147.7L350.9 148.8L352.7 152.8L356.9 157.9ZM222.8 147.7L225.5 151.7L230.9 147.7L234.6 142.6L236.9 137.5L236.9 137.5L238.6 132.4L239.6 127.2L239.9 122.1L240.0 117.0L240.0 111.9L240.1 106.8L240.1 101.7L240.2 96.6L240.2 91.5L240.3 86.4L240.4 81.2L241.0 76.1L242.6 71.0L244.2 65.9L236.9 65.9L225.5 65.9L215.6 65.9L215.7 71.0L215.8 76.1L215.8 81.2L215.9 86.4L216.0 91.5L216.1 96.6L216.3 101.7L216.6 106.8L217.0 111.9L217.4 117.0L217.8 122.1L218.2 127.2L218.6 132.4L219.1 137.5L220.2 142.6Z"/>
<path fill="#f0fa00" d="M212.2 434.0L214.1 434.0L216.0 434.0L216.0 428.9L216.0 423.8L216.0 418.7L216.0 413.6L216.0 408.4L216.0 403.3L216.0 398.2L216.0 393.1L216.0 388.0L216.0 382.9L216.0 377.8L216.4 372.6L217.4 367.5L218.6 362.4L219.8 357.3L220.8 352.2L221.4 347.1L221.9 342.0L222.2 336.9L222.5 331.8L223.0 326.6L223.5 321.5L224.0 316.4L224.4 311.3L224.6 306.2L224.8 301.1L224.9 296.0L224.7 290.9L224.2 285.7L223.4 280.6L222.5 275.5L221.5 270.4L220.5 265.3L219.5 260.2L218.5 255.1L217.3 250.0L215.6 244.8L214.1 241.1L209.9 244.8L207.2 250.0L205.8 255.1L204.8 260.2L204.0 265.3L203.4 270.4L203.1 275.5L202.9 280.6L202.9 285.7L202.9 290.8L202.9 296.0L203.0 301.1L203.1 306.2L203.4 311.3L203.6 316.4L203.9 321.5L204.3 326.6L204.8 331.8L205.2 336.9L205.7 342.0L206.4 347.1L207.4 352.2L208.4 357.3L209.6 362.4L210.8 367.5L211.8 372.6L212.2 377.8L212.2 382.9L212.2 388.0L212.2 393.1L212.2 398.2L212.2 403.3L212.2 408.4L212.2 413.6L212.2 418.7L212.2 423.8L212.2 428.9ZM368.0 434.0L373.7 434.0L375.6 434.0L375.6 428.9L375.6 423.8L375.6 418.7L375.6 413.6L375.6 408.4L375.6 403.3L375.6 398.2L375.6 393.1L375.6 388.0L375.6 382.9L375.6 377.8L375.6 372.6L375.6 367.5L375.6 362.4L375.6 357.3L375.1 352.2L373.7 347.2L368.9 352.2L368.1 357.3L368.0 362.4L368.0 367.5L368.0 372.6L368.0 377.8L368.0 382.9L368.0 388.0L368.0 393.1L368.0 398.2L368.0 403.3L368.0 408.4L368.0 413.6L368.0 418.7L368.0 423.8L368.0 428.9ZM413.6 434.0L419.3 434.0L430.7 434.0L442.1 434.0L453.5 434.0L459.2 434.0L459.2 428.9L459.2 423.8L459.2 418.7L459.2 413.6L459.2 408.4L459.2 403.3L459.2 398.2L459.2 393.1L459.2 388.0L459.2 382.9L459.2 377.8L459.2 372.6L459.2 367.5L459.2 362.4L459.1 357.3L457.6 352.2L453.5 347.1L453.5 347.1L450.2 342.0L448.7 336.9L446.9 331.8L442.1 326.7L441.6 326.6L430.7 323.5L428.7 321.5L426.2 316.4L424.5 311.3L422.9 306.2L420.7 301.1L419.3 299.5L413.2 301.1L410.7 306.2L410.5 311.3L410.5 316.4L410.5 321.5L410.5 326.6L410.5 331.8L410.5 336.9L410.5 342.0L410.5 347.1L410.6 352.2L410.8 357.3L411.1 362.4L411.3 367.5L411.6 372.6L411.8 377.8L412.0 382.9L412.2 388.0L412.4 393.1L412.6 398.2L412.7 403.3L412.9 408.4L413.1 413.6L413.2 418.7L413.3 423.8L413.5 428.9ZM145.7 347.1L145.7 347.1L145.7 347.1L147.1 342.0L148.2 336.9L149.0 331.8L149.6 326.6L150.0 321.5L150.2 316.4L150.3 311.3L150.0 306.2L149.4 301.1L148.0 296.0L145.7 293.0L143.7 296.0L142.5 301.1L142.1 306.2L142.0 311.3L142.1 316.4L142.3 321.5L142.6 326.6L142.9 331.8L143.4 336.9L144.3 342.0ZM359.1 147.7L362.3 152.7L364.7 147.7L367.2 142.6L372.8 137.5L373.7 136.9L377.0 132.4L379.4 127.2L380.7 122.1L381.5 117.0L382.4 111.9L383.0 106.8L383.5 101.7L383.8 96.6L384.2 91.5L384.8 86.4L385.1 84.9L385.9 81.2L386.9 76.1L387.5 71.0L387.9 65.9L385.1 65.9L373.7 65.9L362.3 65.9L356.6 65.9L356.6 71.0L356.6 76.1L356.6 81.2L356.6 86.4L356.7 91.5L356.9 96.6L357.0 101.7L357.2 106.8L357.3 111.9L357.4 117.0L357.5 122.1L357.6 127.2L357.7 132.4L357.8 137.5L358.0 142.6ZM223.6 137.5L225.5 142.5L228.8 137.5L230.9 132.4L232.5 127.2L233.5 122.1L234.1 117.0L234.6 111.9L235.0 106.8L235.3 101.7L235.4 96.6L235.5 91.5L235.6 86.4L235.7 81.2L235.9 76.1L236.5 71.0L236.9 67.2L237.3 65.9L236.9 65.9L225.5 65.9L217.4 65.9L217.5 71.0L217.6 76.1L217.7 81.2L217.9 86.4L218.0 91.5L218.3 96.6L218.6 101.7L219.2 106.8L219.8 111.9L220.6 117.0L221.3 122.1L222.1 127.2L222.7 132.4Z"/>
<path fill="#ffe100" d="M425.0 434.0L430.7 434.0L442.1 434.0L447.8 434.0L447.8 428.9L447.8 423.8L447.8 418.7L447.8 413.6L447.8 408.4L447.8 403.3L447.8 398.2L447.8 393.1L447.8 388.0L447.8 382.9L447.8 377.8L447.8 372.6L447.8 367.5L447.8 362.4L447.7 357.3L446.6 352.2L443.8 347.1L442.1 344.0L430.7 344.0L427.8 347.1L425.6 352.2L425.0 357.3L425.0 362.4L425.0 367.5L425.0 372.6L425.0 377.8L425.0 382.9L425.0 388.0L425.0 393.1L425.0 398.2L425.0 403.3L425.0 408.4L425.0 413.6L425.0 418.7L425.0 423.8L425.0 428.9ZM214.0 367.5L214.1 367.8L214.2 367.5L215.9 362.4L217.5 357.3L218.8 352.2L219.8 347.1L220.4 342.0L220.8 336.9L221.2 331.8L221.7 326.6L222.3 321.5L222.7 316.4L223.1 311.3L223.4 306.2L223.6 301.1L223.7 296.0L223.6 290.9L223.1 285.7L222.4 280.6L221.6 275.5L220.6 270.4L219.6 265.3L218.6 260.2L217.6 255.1L216.3 250.0L214.5 244.8L214.1 243.9L213.1 244.8L209.3 250.0L207.4 255.1L206.3 260.2L205.4 265.3L204.7 270.4L204.3 275.5L204.1 280.6L204.1 285.7L204.1 290.9L204.1 296.0L204.3 301.1L204.4 306.2L204.7 311.3L205.0 316.4L205.3 321.5L205.7 326.6L206.2 331.8L206.7 336.9L207.2 342.0L208.1 347.1L209.3 352.2L210.7 357.3L212.3 362.4ZM144.8 331.8L145.7 336.8L146.7 331.8L147.5 326.6L148.0 321.5L148.3 316.4L148.3 311.3L148.0 306.2L147.2 301.1L145.7 296.8L144.4 301.1L143.8 306.2L143.5 311.3L143.7 316.4L143.9 321.5L144.3 326.6ZM224.9 122.1L225.5 125.3L226.7 122.1L228.5 117.0L230.1 111.9L231.2 106.8L232.0 101.7L232.5 96.6L232.8 91.5L233.0 86.4L233.2 81.2L233.4 76.1L234.0 71.0L234.5 65.9L225.5 65.9L219.2 65.9L219.3 71.0L219.5 76.1L219.6 81.2L219.8 86.4L220.1 91.5L220.4 96.6L220.9 101.7L221.7 106.8L222.7 111.9L223.8 117.0ZM368.3 111.9L373.7 115.3L375.0 111.9L376.6 106.8L377.6 101.7L378.5 96.6L379.4 91.5L380.2 86.4L381.2 81.2L382.3 76.1L383.3 71.0L384.0 65.9L373.7 65.9L362.3 65.9L360.5 65.9L360.6 71.0L360.9 76.1L361.2 81.2L361.5 86.4L361.9 91.5L362.3 96.6L362.3 96.6L363.4 101.7L365.0 106.8Z"/>
<path fill="#ffc300" d="M212.9 357.3L214.1 360.3L215.3 357.3L217.0 352.2L218.2 347.1L219.0 342.0L219.5 336.9L219.9 331.8L220.4 326.6L221.0 321.5L221.5 316.4L221.8 311.3L222.1 306.2L222.3 301.1L222.5 296.0L222.5 290.9L222.1 285.7L221.5 280.6L220.6 275.5L219.7 270.4L218.8 265.3L217.8 260.2L216.7 255.1L215.4 250.0L214.1 246.6L211.4 250.0L209.1 255.1L207.7 260.2L206.7 265.3L206.0 270.4L205.6 275.5L205.3 280.6L205.2 285.7L205.3 290.9L205.4 296.0L205.6 301.1L205.8 306.2L206.0 311.3L206.3 316.4L206.7 321.5L207.1 326.6L207.7 331.8L208.2 336.9L208.8 342.0L209.8 347.1L211.2 352.2ZM145.5 321.5L145.7 323.4L145.9 321.5L146.3 316.4L146.4 311.3L146.0 306.2L145.7 304.7L145.5 306.2L145.1 311.3L145.2 316.4ZM225.5 111.9L225.5 112.0L225.5 111.9L227.4 106.8L228.7 101.7L229.6 96.6L230.1 91.5L230.4 86.4L230.7 81.2L231.0 76.1L231.4 71.0L231.9 65.9L225.5 65.9L221.1 65.9L221.2 71.0L221.3 76.1L221.5 81.2L221.8 86.4L222.1 91.5L222.5 96.6L223.2 101.7L224.2 106.8ZM371.9 91.5L373.7 94.6L374.5 91.5L375.7 86.4L376.5 81.2L377.2 76.1L377.8 71.0L378.4 65.9L373.7 65.9L366.7 65.9L367.3 71.0L368.0 76.1L368.8 81.2L369.8 86.4Z"/>
<path fill="#ffa500" d="M213.1 352.2L214.1 354.8L215.0 352.2L216.5 347.1L217.5 342.0L218.1 336.9L218.6 331.8L219.2 326.6L219.7 321.5L220.2 316.4L220.6 311.3L220.8 306.2L221.1 301.1L221.3 296.0L221.3 290.9L221.0 285.7L220.5 280.6L219.7 275.5L218.9 270.4L217.9 265.3L216.9 260.2L215.8 255.1L214.4 250.0L214.1 249.2L213.5 250.0L210.8 255.1L209.2 260.2L208.1 265.3L207.3 270.4L206.8 275.5L206.5 280.6L206.4 285.7L206.5 290.9L206.6 296.0L206.8 301.1L207.1 306.2L207.3 311.3L207.6 316.4L208.0 321.5L208.5 326.6L209.1 331.8L209.7 336.9L210.4 342.0L211.6 347.1ZM224.6 96.6L225.5 101.6L226.7 96.6L227.4 91.5L227.8 86.4L228.2 81.2L228.5 76.1L228.9 71.0L229.3 65.9L225.5 65.9L222.9 65.9L223.0 71.0L223.2 76.1L223.4 81.2L223.7 86.4L224.1 91.5Z"/>
<path fill="#ff8200" d="M213.3 347.1L214.1 349.6L214.9 347.1L216.1 342.0L216.8 336.9L217.3 331.8L217.9 326.6L218.5 321.5L218.9 316.4L219.3 311.3L219.6 306.2L219.8 301.1L220.1 296.0L220.2 290.9L219.9 285.7L219.5 280.6L218.8 275.5L218.0 270.4L217.1 265.3L216.1 260.2L215.0 255.1L214.1 252.1L212.5 255.1L210.7 260.2L209.4 265.3L208.5 270.4L208.0 275.5L207.7 280.6L207.6 285.7L207.7 290.9L207.9 296.0L208.1 301.1L208.4 306.2L208.7 311.3L209.0 316.4L209.4 321.5L209.9 326.6L210.5 331.8L211.1 336.9L212.0 342.0ZM225.3 81.2L225.5 83.7L225.7 81.2L226.1 76.1L226.4 71.0L226.7 65.9L225.5 65.9L224.7 65.9L224.8 71.0L225.0 76.1Z"/>
<path fill="#ff5a00" d="M213.5 342.0L214.1 344.1L214.6 342.0L215.4 336.9L216.0 331.8L216.6 326.6L217.2 321.5L217.7 316.4L218.0 311.3L218.3 306.2L218.6 301.1L218.9 296.0L219.1 290.9L218.9 285.7L218.5 280.6L217.8 275.5L217.1 270.4L216.2 265.3L215.2 260.2L214.1 255.2L212.1 260.2L210.8 265.3L209.8 270.4L209.2 275.5L208.9 280.6L208.8 285.7L208.9 290.9L209.1 296.0L209.4 301.1L209.7 306.2L210.0 311.3L210.3 316.4L210.7 321.5L211.3 326.6L212.0 331.8L212.6 336.9Z"/>
<path fill="#fa280a" d="M213.4 331.8L214.1 336.7L214.7 331.8L215.4 326.6L215.9 321.5L216.4 316.4L216.8 311.3L217.0 306.2L217.3 301.1L217.7 296.0L217.9 290.9L217.8 285.7L217.5 280.6L216.9 275.5L216.2 270.4L215.4 265.3L214.4 260.2L214.1 258.8L213.6 260.2L212.1 265.3L211.1 270.4L210.5 275.5L210.1 280.6L210.0 285.7L210.1 290.9L210.4 296.0L210.7 301.1L211.0 306.2L211.3 311.3L211.7 316.4L212.1 321.5L212.7 326.6Z"/>
<path fill="#e10a28" d="M213.5 321.5L214.1 326.6L214.7 321.5L215.1 316.4L215.5 311.3L215.8 306.2L216.1 301.1L216.5 296.0L216.8 290.9L216.7 285.7L216.5 280.6L216.0 275.5L215.3 270.4L214.5 265.3L214.1 263.1L213.5 265.3L212.4 270.4L211.7 275.5L211.3 280.6L211.2 285.7L211.3 290.9L211.6 296.0L212.0 301.1L212.4 306.2L212.6 311.3L213.0 316.4Z"/>
<path fill="#b90046" d="M214.0 311.3L214.1 313.2L214.2 311.3L214.5 306.2L214.8 301.1L215.3 296.0L215.6 290.9L215.7 285.7L215.5 280.6L215.0 275.5L214.4 270.4L214.1 268.3L213.6 270.4L212.9 275.5L212.5 280.6L212.4 285.7L212.5 290.9L212.9 296.0L213.3 301.1L213.7 306.2Z"/>
<path fill="#8c0082" d="M213.7 290.9L214.1 295.9L214.5 290.9L214.6 285.7L214.5 280.6L214.1 275.8L213.7 280.6L213.5 285.7Z"/>
</g>
<g fill="none" stroke="#000" stroke-width="1" shape-rendering="crispEdges"><polyline points="54.5,300.0 100.0,301.3 146.0,297.8 180.0,290.0 191.3,284.0 203.0,289.5 210.0,303.0 214.0,310.5 216.5,284.0 225.5,276.7 229.0,282.0 237.0,288.0 260.0,287.3 283.0,288.0 305.0,295.0 328.0,289.0 354.0,283.0 374.0,287.0 396.5,296.5 408.0,293.0 419.0,283.5 446.0,283.0 476.0,292.7 499.0,286.0 522.0,287.5 544.5,290.5"/><polyline points="54.5,291.0 100.0,293.8 146.0,288.5 180.0,280.0 191.3,275.0 203.0,264.3 214.0,260.5 225.5,260.8 229.0,266.0 231.5,272.0 237.0,279.8 260.0,280.3 283.0,285.0 305.0,290.5 328.0,283.5 354.0,276.0 374.0,281.0 396.5,290.0 408.0,285.0 419.0,274.5 446.0,276.5 476.0,287.7 499.0,281.5 522.0,283.0 544.5,286.0"/><polyline points="54.5,284.0 100.0,285.6 146.0,281.0 180.0,272.0 191.3,269.0 203.0,257.5 214.0,240.5 225.5,259.0 237.0,268.7 260.0,272.8 283.0,277.5 305.0,281.5 328.0,274.5 354.0,269.0 374.0,273.5 396.5,284.0 408.0,277.0 419.0,265.5 446.0,269.5 476.0,282.7 499.0,276.5 522.0,278.0 544.5,281.5"/><polyline points="54.5,277.0 100.0,277.4 146.0,270.4 180.0,266.0 191.3,263.0 203.0,251.5 214.0,235.0 225.5,251.5 237.0,261.7 260.0,265.8 283.0,269.5 305.0,271.0 328.0,264.0 354.0,260.0 374.0,265.0 396.5,277.8 408.0,268.0 419.0,256.5 446.0,261.0 476.0,275.0 499.0,269.0 522.0,271.0 544.5,274.0"/><polyline points="54.5,270.5 100.0,269.5 146.0,263.4 180.0,257.5 191.3,254.5 203.0,247.5 214.0,229.5 225.5,243.5 237.0,255.3 260.0,257.0 283.0,260.7 305.0,259.7 328.0,253.0 354.0,249.5 374.0,255.0 396.5,267.8 408.0,258.0 419.0,247.5 446.0,252.0 476.0,266.0 499.0,259.5 522.0,263.0 544.5,268.0"/><polyline points="54.5,264.3 100.0,259.5 146.0,254.3 180.0,248.5 191.3,246.5 203.0,239.5 214.0,224.7 225.5,235.5 237.0,244.7 260.0,247.7 283.0,251.5 305.0,246.0 328.0,240.0 354.0,238.0 374.0,244.0 396.5,255.0 408.0,246.0 419.0,238.5 446.0,241.0 476.0,254.5 499.0,246.5 522.0,252.0 544.5,259.0"/><polyline points="54.5,256.8 100.0,250.0 146.0,245.0 180.0,239.5 191.3,236.0 203.0,229.5 214.0,218.7 225.5,227.0 237.0,235.3 260.0,239.0 283.0,239.0 305.0,232.0 328.0,228.0 354.0,226.5 374.0,231.5 396.5,240.0 408.0,231.0 419.0,224.0 446.0,229.0 476.0,240.0 499.0,231.5 522.0,235.0 544.5,240.0"/><polyline points="54.5,247.7 100.0,240.8 146.0,236.5 180.0,230.5 191.3,226.0 203.0,220.0 214.0,212.7 225.5,218.0 237.0,224.7 260.0,229.0 283.0,226.0 305.0,219.0 328.0,216.0 354.0,215.0 374.0,219.0 396.5,225.0 408.0,216.0 419.0,209.0 446.0,216.0 476.0,222.0 499.0,214.0 522.0,217.0 544.5,221.5"/><polyline points="54.5,239.5 100.0,232.5 146.0,229.0 180.0,223.0 191.3,219.0 203.0,214.0 214.0,208.7 225.5,210.0 237.0,215.3 260.0,221.0 283.0,214.0 305.0,207.5 328.0,205.5 354.0,204.0 374.0,206.0 396.5,207.8 408.0,201.0 419.0,196.0 446.0,199.0 476.0,202.5 499.0,198.0 522.0,201.0 544.5,203.0"/><polyline points="54.5,232.0 100.0,225.0 146.0,220.5 180.0,216.0 191.3,212.5 203.0,209.0 214.0,204.7 225.5,203.0 237.0,209.0 260.0,212.0 283.0,204.0 305.0,197.7 328.0,196.0 354.0,194.3 374.0,192.0 396.5,193.0 408.0,188.0 419.0,183.0 446.0,181.0 476.0,179.0 499.0,180.8 522.0,179.9 544.5,179.0"/><polyline points="54.5,224.5 100.0,219.0 146.0,216.0 180.0,209.0 191.3,206.0 203.0,203.0 214.0,200.0 225.5,199.0 237.0,202.0 260.0,202.0 283.0,195.0 305.0,189.3 328.0,188.0 354.0,186.0 374.0,182.0 396.5,177.0 408.0,175.0 419.0,171.0 446.0,166.3 476.0,161.0 499.0,162.1 522.0,160.0 544.5,158.0"/><polyline points="54.5,218.5 100.0,212.5 146.0,210.5 180.0,203.0 191.3,200.0 203.0,197.0 214.0,195.3 225.5,195.0 237.0,195.0 260.0,192.0 283.0,186.3 305.0,181.0 328.0,180.0 354.0,177.7 374.0,172.0 396.5,162.0 408.0,162.0 419.0,159.5 446.0,154.7 476.0,149.3 499.0,147.5 522.0,143.3 544.5,139.3"/><polyline points="54.5,211.0 100.0,207.0 146.0,204.0 180.0,196.0 191.3,194.0 203.0,192.0 214.0,190.0 225.5,190.0 237.0,188.0 260.0,184.0 283.0,178.5 305.0,172.7 328.0,173.0 354.0,169.0 374.0,163.0 396.5,153.5 408.0,153.5 419.0,150.5 446.0,145.2 476.0,139.3 499.0,134.2 522.0,128.0 544.5,122.0"/><polyline points="54.5,203.5 100.0,200.0 146.0,196.5 180.0,190.0 191.3,188.0 203.0,186.0 214.0,184.7 225.5,184.0 237.0,180.0 260.0,176.0 283.0,171.0 305.0,166.5 328.0,166.0 354.0,162.0 374.0,154.0 396.5,145.0 408.0,145.0 419.0,142.0 446.0,136.0 476.0,129.3 499.0,123.3 522.0,117.9 544.5,112.7"/><polyline points="54.5,196.0 100.0,192.0 146.0,188.0 180.0,183.0 191.3,181.5 203.0,180.0 214.0,178.7 225.5,178.0 237.0,173.0 260.0,168.5 283.0,165.0 305.0,161.0 328.0,159.0 354.0,155.0 374.0,146.0 396.5,136.0 408.0,136.0 419.0,133.5 446.0,127.2 476.0,120.2 499.0,114.2 522.0,109.0 544.5,104.0"/><polyline points="54.5,187.0 100.0,183.0 146.0,179.0 180.0,176.0 191.3,175.0 203.0,174.0 214.0,173.3 225.5,171.8 237.0,166.0 260.0,162.0 283.0,158.0 305.0,153.5 328.0,151.3 354.0,146.0 374.0,137.0 396.5,127.5 408.0,127.3 419.0,125.0 446.0,118.4 476.0,111.0 499.0,105.0 522.0,100.1 544.5,95.3"/><polyline points="54.5,176.0 100.0,174.0 146.0,169.0 180.0,168.0 191.3,168.0 203.0,168.0 214.0,168.0 225.5,164.0 237.0,158.0 260.0,153.0 283.0,149.5 305.0,145.0 328.0,143.0 354.0,137.5 374.0,128.0 396.5,119.0 408.0,119.0 419.0,116.5 446.0,110.0 476.0,102.7 499.0,95.8 522.0,90.8 544.5,86.0"/><polyline points="54.5,164.0 100.0,163.0 146.0,159.0 180.0,159.3 191.3,160.0 203.0,161.0 214.0,161.8 225.5,156.0 237.0,149.3 260.0,143.5 283.0,141.0 305.0,136.8 328.0,134.5 354.0,128.0 374.0,119.0 396.5,110.0 408.0,110.7 419.0,108.0 446.0,101.5 476.0,94.3 499.0,85.6 522.0,81.1 544.5,76.7"/><polyline points="54.5,151.0 100.0,152.7 146.0,148.0 180.0,149.3 191.3,150.0 203.0,151.0 214.0,152.7 225.5,144.3 237.0,138.5 260.0,134.3 283.0,132.5 305.0,128.5 328.0,126.0 354.0,119.0 374.0,110.0 396.5,101.0 408.0,100.0 419.0,98.0 446.0,92.4 476.0,86.0 499.0,77.1 522.0,73.3 544.5,69.5"/><polyline points="54.5,134.0 100.0,138.5 146.0,137.0 180.0,138.5 191.3,138.8 203.0,139.0 214.0,141.8 225.5,132.7 237.0,126.8 260.0,123.0 283.0,121.0 305.0,117.5 328.0,116.0 354.0,109.0 374.0,100.0 396.5,92.0 408.0,91.5 419.0,89.0 446.0,83.7 476.0,77.7 499.0,67.5 522.0,63.5 544.5,60.0"/><polyline points="54.5,114.0 100.0,118.0 146.0,121.0 180.0,124.3 191.3,126.0 203.0,127.7 214.0,131.0 225.5,119.0 237.0,113.5 260.0,109.5 283.0,110.5 305.0,107.7 328.0,106.8 354.0,98.5 374.0,90.0 396.5,83.0 408.0,83.0 419.0,80.0 446.0,75.0 476.0,69.3 499.0,59.0 522.0,55.0 544.5,51.0"/><polyline points="54.5,87.0 100.0,92.0 146.0,96.5 180.0,105.5 191.3,107.5 203.0,110.0 214.0,116.0 225.5,105.0 237.0,98.5 260.0,94.5 283.0,96.5 305.0,97.0 328.0,97.7 354.0,87.7 374.0,78.0 396.5,74.0 408.0,74.5 419.0,71.5 446.0,66.5 476.0,61.0 499.0,51.0 522.0,47.0 544.5,43.0"/><polyline points="54.5,60.0 100.0,62.0 146.0,64.0 180.0,80.0 191.3,83.5 203.0,87.0 214.0,92.7 225.5,82.7 237.0,77.7 260.0,76.0 283.0,81.5 305.0,82.0 328.0,82.0 354.0,72.0 374.0,60.0 396.5,64.0 408.0,66.0 419.0,63.0 446.0,58.0 476.0,53.0 499.0,43.0 522.0,39.0 544.5,35.0"/><polyline points="54.5,311.7 77.0,311.0 100.0,310.5 111.5,307.2 123.0,307.2 134.3,303.7 145.7,304.8 157.0,299.0 168.5,298.0 180.0,298.5 190.5,294.7 195.0,310.5 196.0,330.0 196.0,342.5 191.0,346.0 186.0,349.0"/><polyline points="54.5,321.3 99.0,320.0 111.5,312.5 123.0,312.5 134.3,311.3 145.8,320.0 157.0,307.5 168.5,308.0 180.0,310.5 186.0,318.0 187.5,330.0 188.5,349.0"/><polyline points="54.5,331.0 99.0,333.8 111.5,332.5 123.0,325.0 134.3,331.3 145.8,340.0 157.0,332.5 174.0,333.8 181.5,340.0 181.5,349.0"/><polyline points="54.5,342.5 86.5,342.5 111.5,348.8 123.0,345.0 134.3,352.5 145.8,357.5 157.0,356.3 168.5,360.0 170.0,362.0"/><polyline points="54.5,380.0 86.5,380.0 100.0,376.3 111.5,377.5 116.5,395.0 116.5,415.0"/><polyline points="140.3,415.0 141.5,385.0 145.8,380.0 157.0,380.0 158.0,381.0"/><polyline points="223.5,368.0 224.0,340.0 225.0,315.0 228.0,306.0 237.0,295.5 248.3,306.7 259.7,323.3 270.0,313.5 283.0,300.0 293.9,300.0 305.3,303.7 316.7,304.0 328.0,298.0 339.5,292.0 351.0,288.5 362.3,290.0 374.0,293.5 387.5,301.5 396.5,304.0 408.0,306.3 419.3,293.5 430.7,290.0 442.0,289.0 453.5,291.5 465.0,294.5 476.0,297.7 487.7,295.5 499.0,293.0 522.0,294.0 544.5,296.0"/><polyline points="320.0,375.0 313.7,367.5 310.3,350.0 312.0,335.0 315.7,326.7 322.0,322.0 328.2,320.8 332.3,333.3 334.0,350.0 333.8,375.0"/><polyline points="363.0,376.0 364.3,360.0 366.8,317.5 371.8,307.5 385.5,308.8 398.0,317.5 404.3,330.0 405.5,347.5 400.5,355.0"/><polyline points="436.8,361.0 429.3,352.5 428.0,330.0 433.0,317.5 443.0,310.0 458.0,305.0 473.0,304.0 500.0,302.8 520.0,301.5 525.0,309.0 532.5,319.0 544.5,322.8"/></g>
<g class="cl"><g transform="translate(155.5 97.5) rotate(10)"><rect x="-7" y="-4.6" width="14" height="9.2" fill="#fff"/><text x="0" y="3.6" text-anchor="middle">40</text></g><g transform="translate(293.0 96.3) rotate(0)"><rect x="-7" y="-4.6" width="14" height="9.2" fill="#fff"/><text x="0" y="3.6" text-anchor="middle">40</text></g><g transform="translate(202.0 139.0) rotate(3)"><rect x="-7" y="-4.6" width="14" height="9.2" fill="#fff"/><text x="0" y="3.6" text-anchor="middle">38</text></g><g transform="translate(316.5 116.0) rotate(0)"><rect x="-7" y="-4.6" width="14" height="9.2" fill="#fff"/><text x="0" y="3.6" text-anchor="middle">38</text></g><g transform="translate(110.7 162.7) rotate(0)"><rect x="-7" y="-4.6" width="14" height="9.2" fill="#fff"/><text x="0" y="3.6" text-anchor="middle">36</text></g><g transform="translate(260.0 143.5) rotate(-3)"><rect x="-7" y="-4.6" width="14" height="9.2" fill="#fff"/><text x="0" y="3.6" text-anchor="middle">36</text></g><g transform="translate(407.7 110.7) rotate(0)"><rect x="-7" y="-4.6" width="14" height="9.2" fill="#fff"/><text x="0" y="3.6" text-anchor="middle">36</text></g><g transform="translate(123.2 181.3) rotate(0)"><rect x="-7" y="-4.6" width="14" height="9.2" fill="#fff"/><text x="0" y="3.6" text-anchor="middle">34</text></g><g transform="translate(225.7 171.8) rotate(-22)"><rect x="-7" y="-4.6" width="14" height="9.2" fill="#fff"/><text x="0" y="3.6" text-anchor="middle">34</text></g><g transform="translate(408.0 127.3) rotate(0)"><rect x="-7" y="-4.6" width="14" height="9.2" fill="#fff"/><text x="0" y="3.6" text-anchor="middle">34</text></g><g transform="translate(77.3 201.5) rotate(-5)"><rect x="-7" y="-4.6" width="14" height="9.2" fill="#fff"/><text x="0" y="3.6" text-anchor="middle">32</text></g><g transform="translate(248.0 178.5) rotate(-8)"><rect x="-7" y="-4.6" width="14" height="9.2" fill="#fff"/><text x="0" y="3.6" text-anchor="middle">32</text></g><g transform="translate(386.5 148.5) rotate(-15)"><rect x="-7" y="-4.6" width="14" height="9.2" fill="#fff"/><text x="0" y="3.6" text-anchor="middle">32</text></g><g transform="translate(111.0 211.0) rotate(-5)"><rect x="-7" y="-4.6" width="14" height="9.2" fill="#fff"/><text x="0" y="3.6" text-anchor="middle">30</text></g><g transform="translate(282.7 186.3) rotate(-15)"><rect x="-7" y="-4.6" width="14" height="9.2" fill="#fff"/><text x="0" y="3.6" text-anchor="middle">30</text></g><g transform="translate(407.7 162.0) rotate(0)"><rect x="-7" y="-4.6" width="14" height="9.2" fill="#fff"/><text x="0" y="3.6" text-anchor="middle">30</text></g><g transform="translate(134.0 219.8) rotate(-5)"><rect x="-7" y="-4.6" width="14" height="9.2" fill="#fff"/><text x="0" y="3.6" text-anchor="middle">28</text></g><g transform="translate(248.0 211.0) rotate(0)"><rect x="-7" y="-4.6" width="14" height="9.2" fill="#fff"/><text x="0" y="3.6" text-anchor="middle">28</text></g><g transform="translate(385.0 191.8) rotate(-3)"><rect x="-7" y="-4.6" width="14" height="9.2" fill="#fff"/><text x="0" y="3.6" text-anchor="middle">28</text></g><g transform="translate(99.8 240.8) rotate(-5)"><rect x="-7" y="-4.6" width="14" height="9.2" fill="#fff"/><text x="0" y="3.6" text-anchor="middle">26</text></g><g transform="translate(270.5 227.8) rotate(0)"><rect x="-7" y="-4.6" width="14" height="9.2" fill="#fff"/><text x="0" y="3.6" text-anchor="middle">26</text></g><g transform="translate(396.8 222.8) rotate(12)"><rect x="-7" y="-4.6" width="14" height="9.2" fill="#fff"/><text x="0" y="3.6" text-anchor="middle">26</text></g><g transform="translate(111.0 259.0) rotate(-5)"><rect x="-7" y="-4.6" width="14" height="9.2" fill="#fff"/><text x="0" y="3.6" text-anchor="middle">24</text></g><g transform="translate(259.0 247.8) rotate(0)"><rect x="-7" y="-4.6" width="14" height="9.2" fill="#fff"/><text x="0" y="3.6" text-anchor="middle">24</text></g><g transform="translate(419.0 238.5) rotate(-12)"><rect x="-7" y="-4.6" width="14" height="9.2" fill="#fff"/><text x="0" y="3.6" text-anchor="middle">24</text></g><g transform="translate(122.0 274.5) rotate(0)"><rect x="-7" y="-4.6" width="14" height="9.2" fill="#fff"/><text x="0" y="3.6" text-anchor="middle">22</text></g><g transform="translate(259.8 265.5) rotate(0)"><rect x="-7" y="-4.6" width="14" height="9.2" fill="#fff"/><text x="0" y="3.6" text-anchor="middle">22</text></g><g transform="translate(389.0 275.0) rotate(22)"><rect x="-7" y="-4.6" width="14" height="9.2" fill="#fff"/><text x="0" y="3.6" text-anchor="middle">22</text></g><g transform="translate(145.0 281.0) rotate(-5)"><rect x="-7" y="-4.6" width="14" height="9.2" fill="#fff"/><text x="0" y="3.6" text-anchor="middle">20</text></g><g transform="translate(282.3 277.5) rotate(12)"><rect x="-7" y="-4.6" width="14" height="9.2" fill="#fff"/><text x="0" y="3.6" text-anchor="middle">20</text></g><g transform="translate(363.0 275.0) rotate(28)"><rect x="-7" y="-4.6" width="14" height="9.2" fill="#fff"/><text x="0" y="3.6" text-anchor="middle">20</text></g><g transform="translate(77.0 311.0) rotate(0)"><rect x="-7" y="-4.6" width="14" height="9.2" fill="#fff"/><text x="0" y="3.6" text-anchor="middle">18</text></g><g transform="translate(283.2 300.0) rotate(-8)"><rect x="-7" y="-4.6" width="14" height="9.2" fill="#fff"/><text x="0" y="3.6" text-anchor="middle">18</text></g><g transform="translate(387.5 301.5) rotate(5)"><rect x="-7" y="-4.6" width="14" height="9.2" fill="#fff"/><text x="0" y="3.6" text-anchor="middle">18</text></g></g>
<polygon points="54.5,434.0 54.5,427.5 100.1,427.5 100.1,420.5 111.5,420.5 111.5,413.8 145.7,413.8 145.7,407.5 157.1,407.5 157.1,380.5 168.5,380.5 168.5,361.0 179.9,361.0 179.9,348.2 214.1,348.2 214.1,367.5 225.5,367.5 225.5,380.0 236.9,380.0 236.9,374.5 248.3,374.5 248.3,367.0 271.1,367.0 271.1,361.2 293.9,361.2 293.9,367.5 305.3,367.5 305.3,373.8 328.1,373.8 328.1,380.0 339.5,380.0 339.5,387.0 362.3,387.0 362.3,373.8 373.7,373.8 373.7,361.2 385.1,361.2 385.1,354.5 407.9,354.5 407.9,361.2 442.1,361.2 442.1,354.5 453.5,354.5 453.5,348.2 499.1,348.2 499.1,354.5 533.3,354.5 533.3,361.2 544.7,361.2 544.5,434.0" fill="#fff"/>
<polyline points="54.5,427.5 100.1,427.5 100.1,420.5 111.5,420.5 111.5,413.8 145.7,413.8 145.7,407.5 157.1,407.5 157.1,380.5 168.5,380.5 168.5,361.0 179.9,361.0 179.9,348.2 214.1,348.2 214.1,367.5 225.5,367.5 225.5,380.0 236.9,380.0 236.9,374.5 248.3,374.5 248.3,367.0 271.1,367.0 271.1,361.2 293.9,361.2 293.9,367.5 305.3,367.5 305.3,373.8 328.1,373.8 328.1,380.0 339.5,380.0 339.5,387.0 362.3,387.0 362.3,373.8 373.7,373.8 373.7,361.2 385.1,361.2 385.1,354.5 407.9,354.5 407.9,361.2 442.1,361.2 442.1,354.5 453.5,354.5 453.5,348.2 499.1,348.2 499.1,354.5 533.3,354.5 533.3,361.2 544.7,361.2" fill="none" stroke="#000" stroke-width="1" shape-rendering="crispEdges"/>
</g>
<g fill="#000" shape-rendering="crispEdges"><rect x="77" y="428" width="1" height="5"/><rect x="77" y="67" width="1" height="5"/><rect x="100" y="428" width="1" height="5"/><rect x="100" y="67" width="1" height="5"/><rect x="122" y="428" width="1" height="5"/><rect x="122" y="67" width="1" height="5"/><rect x="145" y="428" width="1" height="5"/><rect x="145" y="67" width="1" height="5"/><rect x="167" y="423" width="2" height="10"/><rect x="167" y="67" width="2" height="10"/><rect x="191" y="428" width="1" height="5"/><rect x="191" y="67" width="1" height="5"/><rect x="214" y="428" width="1" height="5"/><rect x="214" y="67" width="1" height="5"/><rect x="236" y="428" width="1" height="5"/><rect x="236" y="67" width="1" height="5"/><rect x="259" y="428" width="1" height="5"/><rect x="259" y="67" width="1" height="5"/><rect x="281" y="423" width="2" height="10"/><rect x="281" y="67" width="2" height="10"/><rect x="305" y="428" width="1" height="5"/><rect x="305" y="67" width="1" height="5"/><rect x="328" y="428" width="1" height="5"/><rect x="328" y="67" width="1" height="5"/><rect x="350" y="428" width="1" height="5"/><rect x="350" y="67" width="1" height="5"/><rect x="373" y="428" width="1" height="5"/><rect x="373" y="67" width="1" height="5"/><rect x="395" y="423" width="2" height="10"/><rect x="395" y="67" width="2" height="10"/><rect x="419" y="428" width="1" height="5"/><rect x="419" y="67" width="1" height="5"/><rect x="442" y="428" width="1" height="5"/><rect x="442" y="67" width="1" height="5"/><rect x="464" y="428" width="1" height="5"/><rect x="464" y="67" width="1" height="5"/><rect x="487" y="428" width="1" height="5"/><rect x="487" y="67" width="1" height="5"/><rect x="509" y="423" width="2" height="10"/><rect x="509" y="67" width="2" height="10"/><rect x="533" y="428" width="1" height="5"/><rect x="533" y="67" width="1" height="5"/><rect x="55" y="413" width="8" height="1"/><rect x="536" y="413" width="8" height="1"/><rect x="55" y="393" width="8" height="1"/><rect x="536" y="393" width="8" height="1"/><rect x="55" y="372" width="16" height="2"/><rect x="528" y="372" width="16" height="2"/><rect x="55" y="352" width="8" height="1"/><rect x="536" y="352" width="8" height="1"/><rect x="55" y="331" width="8" height="1"/><rect x="536" y="331" width="8" height="1"/><rect x="55" y="310" width="16" height="2"/><rect x="528" y="310" width="16" height="2"/><rect x="55" y="290" width="8" height="1"/><rect x="536" y="290" width="8" height="1"/><rect x="55" y="270" width="8" height="1"/><rect x="536" y="270" width="8" height="1"/><rect x="55" y="249" width="16" height="2"/><rect x="528" y="249" width="16" height="2"/><rect x="55" y="229" width="8" height="1"/><rect x="536" y="229" width="8" height="1"/><rect x="55" y="209" width="8" height="1"/><rect x="536" y="209" width="8" height="1"/><rect x="55" y="188" width="16" height="2"/><rect x="528" y="188" width="16" height="2"/><rect x="55" y="168" width="8" height="1"/><rect x="536" y="168" width="8" height="1"/><rect x="55" y="147" width="8" height="1"/><rect x="536" y="147" width="8" height="1"/><rect x="55" y="126" width="16" height="2"/><rect x="528" y="126" width="16" height="2"/><rect x="55" y="106" width="8" height="1"/><rect x="536" y="106" width="8" height="1"/><rect x="55" y="86" width="8" height="1"/><rect x="536" y="86" width="8" height="1"/></g>
<rect x="54" y="66" width="491" height="368" fill="none" stroke="#000" stroke-width="2" shape-rendering="crispEdges"/>
<text x="54.5" y="452.3" text-anchor="middle" class="ax">0</text><text x="168.5" y="452.3" text-anchor="middle" class="ax">10</text><text x="282.5" y="452.3" text-anchor="middle" class="ax">20</text><text x="396.5" y="452.3" text-anchor="middle" class="ax">30</text><text x="510.5" y="452.3" text-anchor="middle" class="ax">40</text><text x="48.5" y="439.9" text-anchor="end" class="ax">0</text><text x="48.5" y="378.5" text-anchor="end" class="ax">3</text><text x="48.5" y="317.2" text-anchor="end" class="ax">6</text><text x="48.5" y="255.9" text-anchor="end" class="ax">9</text><text x="48.5" y="194.5" text-anchor="end" class="ax">12</text><text x="48.5" y="133.2" text-anchor="end" class="ax">15</text><text x="48.5" y="71.8" text-anchor="end" class="ax">18</text>
<text x="263" y="476.5" textLength="73" lengthAdjust="spacingAndGlyphs" style="font-size:16px;stroke:#000;stroke-width:0.7px">Grid Point</text>
<text transform="translate(19.8 303) rotate(-90)" textLength="105.5" lengthAdjust="spacingAndGlyphs" style="font-size:16px;stroke:#000;stroke-width:0.7px">Height [Kft MSL]</text>
<g style="stroke:#000;stroke-width:0.5px;font-weight:bold">
<text x="76.7" y="34.2" style="font-size:13.2px;stroke-width:0.65px" textLength="430.5" lengthAdjust="spacingAndGlyphs">Wind-Parallel Section at Max W: Vertical Velocity &amp; Pot.Temp.</text>
<text x="512" y="33" style="font-size:7px;font-weight:bold;stroke-width:0.2px" textLength="11.5" lengthAdjust="spacingAndGlyphs">(C)</text>
<text x="148.3" y="45.5" style="font-size:12px" textLength="82.4" lengthAdjust="spacingAndGlyphs">Valid 1400 LST</text>
<text x="236.7" y="45" style="font-size:9px" textLength="30.6" lengthAdjust="spacingAndGlyphs">(1200Z)</text>
<text x="272.7" y="45.5" style="font-size:12px" textLength="99" lengthAdjust="spacingAndGlyphs">MON 27 Aug 2007</text>
<text x="375" y="45" style="font-size:9px" textLength="78" lengthAdjust="spacingAndGlyphs">[10hrFcst@2324z]</text>
<text x="220.2" y="54.2" style="font-size:8.3px" textLength="161" lengthAdjust="spacingAndGlyphs">boxWmax=51@ 33.86,19.43,2152m</text>
</g>
<g shape-rendering="crispEdges"><rect x="78.0" y="488.0" width="22.1" height="5.0" fill="#0000d7"/><rect x="100.1" y="488.0" width="22.1" height="5.0" fill="#0044eb"/><rect x="122.2" y="488.0" width="22.1" height="5.0" fill="#0087f5"/><rect x="144.3" y="488.0" width="22.1" height="5.0" fill="#00e8f2"/><rect x="166.4" y="488.0" width="22.1" height="5.0" fill="#00e6be"/><rect x="188.5" y="488.0" width="22.1" height="5.0" fill="#00d782"/><rect x="210.6" y="488.0" width="22.1" height="5.0" fill="#0abe3c"/><rect x="232.7" y="488.0" width="22.1" height="5.0" fill="#28b914"/><rect x="254.8" y="488.0" width="22.1" height="5.0" fill="#6ecd14"/><rect x="276.9" y="488.0" width="22.1" height="5.0" fill="#b9e60a"/><rect x="299.0" y="488.0" width="22.1" height="5.0" fill="#f0fa00"/><rect x="321.1" y="488.0" width="22.1" height="5.0" fill="#ffe100"/><rect x="343.2" y="488.0" width="22.1" height="5.0" fill="#ffc300"/><rect x="365.3" y="488.0" width="22.1" height="5.0" fill="#ffa500"/><rect x="387.4" y="488.0" width="22.1" height="5.0" fill="#ff8200"/><rect x="409.5" y="488.0" width="22.1" height="5.0" fill="#ff5a00"/><rect x="431.6" y="488.0" width="22.1" height="5.0" fill="#fa280a"/><rect x="453.7" y="488.0" width="22.1" height="5.0" fill="#e10a28"/><rect x="475.8" y="488.0" width="22.1" height="5.0" fill="#b90046"/><rect x="497.9" y="488.0" width="22.1" height="5.0" fill="#8c0082"/>
<g stroke="#000" stroke-width="1" fill="none"><rect x="78" y="488" width="442" height="5"/><line x1="100.1" y1="488" x2="100.1" y2="493"/><line x1="122.2" y1="488" x2="122.2" y2="493"/><line x1="144.3" y1="488" x2="144.3" y2="493"/><line x1="166.4" y1="488" x2="166.4" y2="493"/><line x1="188.5" y1="488" x2="188.5" y2="493"/><line x1="210.6" y1="488" x2="210.6" y2="493"/><line x1="232.7" y1="488" x2="232.7" y2="493"/><line x1="254.8" y1="488" x2="254.8" y2="493"/><line x1="276.9" y1="488" x2="276.9" y2="493"/><line x1="299.0" y1="488" x2="299.0" y2="493"/><line x1="321.1" y1="488" x2="321.1" y2="493"/><line x1="343.2" y1="488" x2="343.2" y2="493"/><line x1="365.3" y1="488" x2="365.3" y2="493"/><line x1="387.4" y1="488" x2="387.4" y2="493"/><line x1="409.5" y1="488" x2="409.5" y2="493"/><line x1="431.6" y1="488" x2="431.6" y2="493"/><line x1="453.7" y1="488" x2="453.7" y2="493"/><line x1="475.8" y1="488" x2="475.8" y2="493"/><line x1="497.9" y1="488" x2="497.9" y2="493"/></g></g>
<text x="78.0" y="504.7" text-anchor="middle" class="cbl">-28</text><text x="144.3" y="504.7" text-anchor="middle" class="cbl">-16</text><text x="210.6" y="504.7" text-anchor="middle" class="cbl">-4</text><text x="276.9" y="504.7" text-anchor="middle" class="cbl">8</text><text x="343.2" y="504.7" text-anchor="middle" class="cbl">20</text><text x="409.5" y="504.7" text-anchor="middle" class="cbl">32</text><text x="475.8" y="504.7" text-anchor="middle" class="cbl">44</text>
<text x="239.3" y="526" textLength="121.4" lengthAdjust="spacingAndGlyphs" style="font-size:11.7px;stroke:#000;stroke-width:0.5px">Vertical Velocity [cm/s]</text>
</svg>
</body></html>
